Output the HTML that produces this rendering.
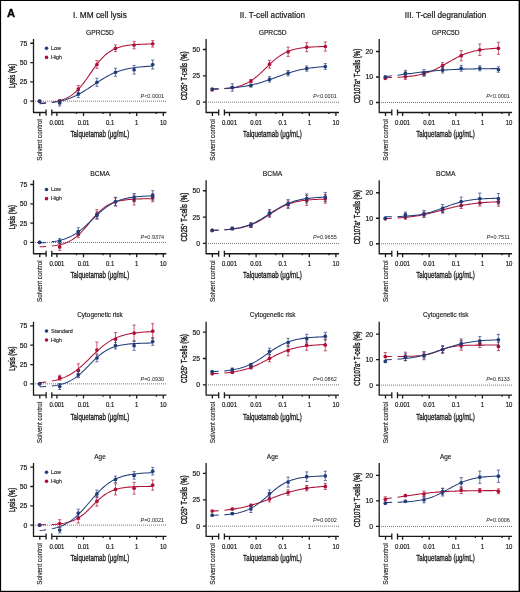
<!DOCTYPE html><html><head><meta charset="utf-8"><style>html,body{margin:0;padding:0;background:#fff;}svg{display:block;will-change:transform;}</style></head><body><svg width="520" height="592" viewBox="0 0 520 592" font-family='"Liberation Sans", sans-serif'>
<rect width="520" height="592" fill="#fff"/>
<g stroke="#1a1a1a" stroke-width="1.3" fill="none">
<path d="M33.50,39.00 V112.50 M32.95,112.50 H46.10 M46.10,109.60 V115.60 M51.80,109.60 V115.60 M51.80,112.50 H166.40"/>
<path d="M39.80,112.50 v3.4 M56.90,112.50 v3.4 M83.50,112.50 v3.4 M110.10,112.50 v3.4 M136.70,112.50 v3.4 M163.30,112.50 v3.4 M76.50,112.50 v1.6 M103.10,112.50 v1.6 M129.70,112.50 v1.6 M156.30,112.50 v1.6 M30.30,101.20 H33.50 M30.30,81.88 H33.50 M30.30,62.57 H33.50 M30.30,43.25 H33.50"/>
</g>
<path d="M35.00,101.20 H167.00" stroke="#666" stroke-width="0.9" stroke-dasharray="1 1" fill="none"/>
<text x="27.40" y="103.60" font-size="6.8" text-anchor="end" fill="#1a1a1a" stroke="#1a1a1a" stroke-width="0.2">0</text>
<text x="27.40" y="84.28" font-size="6.8" text-anchor="end" fill="#1a1a1a" stroke="#1a1a1a" stroke-width="0.2">25</text>
<text x="27.40" y="64.97" font-size="6.8" text-anchor="end" fill="#1a1a1a" stroke="#1a1a1a" stroke-width="0.2">50</text>
<text x="27.40" y="45.65" font-size="6.8" text-anchor="end" fill="#1a1a1a" stroke="#1a1a1a" stroke-width="0.2">75</text>
<text x="56.90" y="124.70" font-size="6.7" text-anchor="middle" textLength="15.01" lengthAdjust="spacingAndGlyphs" fill="#1a1a1a" stroke="#1a1a1a" stroke-width="0.2">0.001</text>
<text x="83.50" y="124.70" font-size="6.7" text-anchor="middle" textLength="11.68" lengthAdjust="spacingAndGlyphs" fill="#1a1a1a" stroke="#1a1a1a" stroke-width="0.2">0.01</text>
<text x="110.10" y="124.70" font-size="6.7" text-anchor="middle" textLength="8.34" lengthAdjust="spacingAndGlyphs" fill="#1a1a1a" stroke="#1a1a1a" stroke-width="0.2">0.1</text>
<text x="136.70" y="124.70" font-size="6.7" text-anchor="middle" textLength="3.34" lengthAdjust="spacingAndGlyphs" fill="#1a1a1a" stroke="#1a1a1a" stroke-width="0.2">1</text>
<text x="163.30" y="124.70" font-size="6.7" text-anchor="middle" textLength="6.67" lengthAdjust="spacingAndGlyphs" fill="#1a1a1a" stroke="#1a1a1a" stroke-width="0.2">10</text>
<text transform="translate(42.00,119.10) rotate(-90)" x="0" y="0" font-size="6.3" text-anchor="end" fill="#1a1a1a" stroke="#1a1a1a" stroke-width="0.14" textLength="41.6" lengthAdjust="spacingAndGlyphs">Solvent control</text>
<text x="99.85" y="136.90" font-size="8.8" text-anchor="middle" textLength="58.7" lengthAdjust="spacingAndGlyphs" fill="#1a1a1a" stroke="#1a1a1a" stroke-width="0.32">Talquetamab (μg/mL)</text>
<text transform="translate(14.60,75.90) rotate(-90)" font-size="8.4" text-anchor="middle" fill="#1a1a1a" stroke="#1a1a1a" stroke-width="0.38" textLength="24.3" lengthAdjust="spacingAndGlyphs">Lysis (%)</text>
<text x="100.00" y="34.60" font-size="6.7" text-anchor="middle" textLength="27.8" lengthAdjust="spacingAndGlyphs" fill="#1a1a1a" stroke="#1a1a1a" stroke-width="0.15">GPRC5D</text>
<text x="99.90" y="17.50" font-size="8.3" text-anchor="middle" textLength="53.9" lengthAdjust="spacingAndGlyphs" fill="#1a1a1a" stroke="#1a1a1a" stroke-width="0.2">I. MM cell lysis</text>
<circle cx="46.50" cy="48.30" r="1.8" fill="#213d7a"/>
<circle cx="46.50" cy="57.40" r="1.8" fill="#b01036"/>
<text x="50.90" y="49.90" font-size="5.4" text-anchor="start" fill="#1a1a1a" stroke="#1a1a1a" stroke-width="0.12">Low</text>
<text x="50.90" y="58.90" font-size="5.4" text-anchor="start" fill="#1a1a1a" stroke="#1a1a1a" stroke-width="0.12">High</text>
<text x="164.20" y="98.00" font-size="5.5" text-anchor="end" fill="#1a1a1a"><tspan font-style="italic">P</tspan><0.0001</text>
<path d="M51.80,102.21 L53.51,101.96 L55.22,101.67 L56.93,101.34 L58.64,100.95 L60.35,100.49 L62.06,99.96 L63.77,99.35 L65.48,98.64 L67.19,97.83 L68.90,96.91 L70.61,95.85 L72.32,94.66 L74.03,93.32 L75.74,91.83 L77.45,90.18 L79.16,88.37 L80.87,86.41 L82.58,84.30 L84.29,82.07 L86.00,79.73 L87.71,77.31 L89.42,74.85 L91.13,72.37 L92.84,69.90 L94.55,67.49 L96.26,65.16 L97.97,62.94 L99.68,60.85 L101.39,58.90 L103.11,57.11 L104.82,55.47 L106.53,53.99 L108.24,52.67 L109.95,51.49 L111.66,50.45 L113.37,49.53 L115.08,48.73 L116.79,48.04 L118.50,47.43 L120.21,46.91 L121.92,46.46 L123.63,46.08 L125.34,45.75 L127.05,45.46 L128.76,45.22 L130.47,45.01 L132.18,44.84 L133.89,44.69 L135.60,44.56 L137.31,44.45 L139.02,44.36 L140.73,44.28 L142.44,44.21 L144.15,44.16 L145.86,44.11 L147.57,44.07 L149.28,44.03 L150.99,44.00 L152.70,43.98 M39.60,103.17 L43.00,103.00 L46.10,102.79" stroke="#b01036" stroke-width="1.05" fill="none"/>
<path d="M59.70,100.00 V102.00 M58.10,100.00 h3.2 M58.10,102.00 h3.2 M78.30,85.60 V92.60 M76.70,85.60 h3.2 M76.70,92.60 h3.2 M96.90,60.60 V68.40 M95.30,60.60 h3.2 M95.30,68.40 h3.2 M115.50,44.95 V51.55 M113.90,44.95 h3.2 M113.90,51.55 h3.2 M134.10,41.40 V48.80 M132.50,41.40 h3.2 M132.50,48.80 h3.2 M152.70,40.45 V47.05 M151.10,40.45 h3.2 M151.10,47.05 h3.2 " stroke="#b01036" stroke-width="0.8" stroke-opacity="0.85" fill="none"/>
<circle cx="39.60" cy="101.20" r="1.85" fill="#b01036"/>
<circle cx="59.70" cy="101.00" r="1.85" fill="#b01036"/>
<circle cx="78.30" cy="89.10" r="1.85" fill="#b01036"/>
<circle cx="96.90" cy="64.50" r="1.85" fill="#b01036"/>
<circle cx="115.50" cy="48.25" r="1.85" fill="#b01036"/>
<circle cx="134.10" cy="45.10" r="1.85" fill="#b01036"/>
<circle cx="152.70" cy="43.75" r="1.85" fill="#b01036"/>
<path d="M51.80,102.54 L53.51,102.30 L55.22,102.02 L56.93,101.72 L58.64,101.38 L60.35,101.01 L62.06,100.61 L63.77,100.16 L65.48,99.67 L67.19,99.13 L68.90,98.54 L70.61,97.91 L72.32,97.23 L74.03,96.49 L75.74,95.70 L77.45,94.85 L79.16,93.96 L80.87,93.02 L82.58,92.03 L84.29,90.99 L86.00,89.92 L87.71,88.82 L89.42,87.69 L91.13,86.55 L92.84,85.39 L94.55,84.23 L96.26,83.08 L97.97,81.94 L99.68,80.82 L101.39,79.73 L103.11,78.68 L104.82,77.67 L106.53,76.70 L108.24,75.77 L109.95,74.90 L111.66,74.08 L113.37,73.31 L115.08,72.60 L116.79,71.94 L118.50,71.32 L120.21,70.76 L121.92,70.24 L123.63,69.77 L125.34,69.34 L127.05,68.95 L128.76,68.59 L130.47,68.27 L132.18,67.98 L133.89,67.72 L135.60,67.49 L137.31,67.27 L139.02,67.08 L140.73,66.91 L142.44,66.76 L144.15,66.62 L145.86,66.50 L147.57,66.39 L149.28,66.29 L150.99,66.21 L152.70,66.13 M39.60,103.71 L43.00,103.47 L46.10,103.20" stroke="#213d7a" stroke-width="1.05" fill="none"/>
<path d="M59.70,99.80 V106.00 M58.10,99.80 h3.2 M58.10,106.00 h3.2 M78.30,90.60 V97.60 M76.70,90.60 h3.2 M76.70,97.60 h3.2 M96.90,78.25 V86.25 M95.30,78.25 h3.2 M95.30,86.25 h3.2 M115.50,68.25 V76.25 M113.90,68.25 h3.2 M113.90,76.25 h3.2 M134.10,65.45 V74.05 M132.50,65.45 h3.2 M132.50,74.05 h3.2 M152.70,60.00 V69.00 M151.10,60.00 h3.2 M151.10,69.00 h3.2 " stroke="#213d7a" stroke-width="0.8" stroke-opacity="0.85" fill="none"/>
<circle cx="39.60" cy="101.20" r="1.85" fill="#213d7a"/>
<circle cx="59.70" cy="102.90" r="1.85" fill="#213d7a"/>
<circle cx="78.30" cy="94.10" r="1.85" fill="#213d7a"/>
<circle cx="96.90" cy="82.25" r="1.85" fill="#213d7a"/>
<circle cx="115.50" cy="72.25" r="1.85" fill="#213d7a"/>
<circle cx="134.10" cy="69.75" r="1.85" fill="#213d7a"/>
<circle cx="152.70" cy="64.50" r="1.85" fill="#213d7a"/>
<g stroke="#1a1a1a" stroke-width="1.3" fill="none">
<path d="M33.50,180.25 V253.75 M32.95,253.75 H46.10 M46.10,250.85 V256.85 M51.80,250.85 V256.85 M51.80,253.75 H166.40"/>
<path d="M39.80,253.75 v3.4 M56.90,253.75 v3.4 M83.50,253.75 v3.4 M110.10,253.75 v3.4 M136.70,253.75 v3.4 M163.30,253.75 v3.4 M76.50,253.75 v1.6 M103.10,253.75 v1.6 M129.70,253.75 v1.6 M156.30,253.75 v1.6 M30.30,242.45 H33.50 M30.30,223.13 H33.50 M30.30,203.82 H33.50 M30.30,184.50 H33.50"/>
</g>
<path d="M35.00,242.45 H167.00" stroke="#666" stroke-width="0.9" stroke-dasharray="1 1" fill="none"/>
<text x="27.40" y="244.85" font-size="6.8" text-anchor="end" fill="#1a1a1a" stroke="#1a1a1a" stroke-width="0.2">0</text>
<text x="27.40" y="225.53" font-size="6.8" text-anchor="end" fill="#1a1a1a" stroke="#1a1a1a" stroke-width="0.2">25</text>
<text x="27.40" y="206.22" font-size="6.8" text-anchor="end" fill="#1a1a1a" stroke="#1a1a1a" stroke-width="0.2">50</text>
<text x="27.40" y="186.90" font-size="6.8" text-anchor="end" fill="#1a1a1a" stroke="#1a1a1a" stroke-width="0.2">75</text>
<text x="56.90" y="265.95" font-size="6.7" text-anchor="middle" textLength="15.01" lengthAdjust="spacingAndGlyphs" fill="#1a1a1a" stroke="#1a1a1a" stroke-width="0.2">0.001</text>
<text x="83.50" y="265.95" font-size="6.7" text-anchor="middle" textLength="11.68" lengthAdjust="spacingAndGlyphs" fill="#1a1a1a" stroke="#1a1a1a" stroke-width="0.2">0.01</text>
<text x="110.10" y="265.95" font-size="6.7" text-anchor="middle" textLength="8.34" lengthAdjust="spacingAndGlyphs" fill="#1a1a1a" stroke="#1a1a1a" stroke-width="0.2">0.1</text>
<text x="136.70" y="265.95" font-size="6.7" text-anchor="middle" textLength="3.34" lengthAdjust="spacingAndGlyphs" fill="#1a1a1a" stroke="#1a1a1a" stroke-width="0.2">1</text>
<text x="163.30" y="265.95" font-size="6.7" text-anchor="middle" textLength="6.67" lengthAdjust="spacingAndGlyphs" fill="#1a1a1a" stroke="#1a1a1a" stroke-width="0.2">10</text>
<text transform="translate(42.00,260.35) rotate(-90)" x="0" y="0" font-size="6.3" text-anchor="end" fill="#1a1a1a" stroke="#1a1a1a" stroke-width="0.14" textLength="41.6" lengthAdjust="spacingAndGlyphs">Solvent control</text>
<text x="99.85" y="278.15" font-size="8.8" text-anchor="middle" textLength="58.7" lengthAdjust="spacingAndGlyphs" fill="#1a1a1a" stroke="#1a1a1a" stroke-width="0.32">Talquetamab (μg/mL)</text>
<text transform="translate(14.60,217.15) rotate(-90)" font-size="8.4" text-anchor="middle" fill="#1a1a1a" stroke="#1a1a1a" stroke-width="0.38" textLength="24.3" lengthAdjust="spacingAndGlyphs">Lysis (%)</text>
<text x="100.00" y="175.85" font-size="6.7" text-anchor="middle" textLength="19.6" lengthAdjust="spacingAndGlyphs" fill="#1a1a1a" stroke="#1a1a1a" stroke-width="0.15">BCMA</text>
<circle cx="46.50" cy="189.55" r="1.8" fill="#213d7a"/>
<circle cx="46.50" cy="198.65" r="1.8" fill="#b01036"/>
<text x="50.90" y="191.15" font-size="5.4" text-anchor="start" fill="#1a1a1a" stroke="#1a1a1a" stroke-width="0.12">Low</text>
<text x="50.90" y="200.15" font-size="5.4" text-anchor="start" fill="#1a1a1a" stroke="#1a1a1a" stroke-width="0.12">High</text>
<text x="164.20" y="239.25" font-size="5.5" text-anchor="end" fill="#1a1a1a"><tspan font-style="italic">P</tspan>=0.9374</text>
<path d="M51.80,246.03 L53.51,245.83 L55.22,245.59 L56.93,245.31 L58.64,244.98 L60.35,244.60 L62.06,244.15 L63.77,243.64 L65.48,243.04 L67.19,242.35 L68.90,241.56 L70.61,240.66 L72.32,239.64 L74.03,238.49 L75.74,237.21 L77.45,235.79 L79.16,234.24 L80.87,232.56 L82.58,230.76 L84.29,228.86 L86.00,226.88 L87.71,224.84 L89.42,222.77 L91.13,220.70 L92.84,218.67 L94.55,216.69 L96.26,214.80 L97.97,213.01 L99.68,211.34 L101.39,209.81 L103.11,208.40 L104.82,207.13 L106.53,206.00 L108.24,204.99 L109.95,204.10 L111.66,203.31 L113.37,202.63 L115.08,202.04 L116.79,201.53 L118.50,201.09 L120.21,200.72 L121.92,200.40 L123.63,200.12 L125.34,199.88 L127.05,199.69 L128.76,199.52 L130.47,199.37 L132.18,199.25 L133.89,199.15 L135.60,199.06 L137.31,198.98 L139.02,198.92 L140.73,198.87 L142.44,198.82 L144.15,198.79 L145.86,198.75 L147.57,198.73 L149.28,198.70 L150.99,198.68 L152.70,198.67 M39.60,246.81 L43.00,246.68 L46.10,246.51" stroke="#b01036" stroke-width="1.05" fill="none"/>
<path d="M59.70,243.40 V250.40 M58.10,243.40 h3.2 M58.10,250.40 h3.2 M78.30,230.90 V237.70 M76.70,230.90 h3.2 M76.70,237.70 h3.2 M96.90,209.60 V219.00 M95.30,209.60 h3.2 M95.30,219.00 h3.2 M115.50,198.00 V206.00 M113.90,198.00 h3.2 M113.90,206.00 h3.2 M134.10,195.00 V205.00 M132.50,195.00 h3.2 M132.50,205.00 h3.2 M152.70,193.70 V201.70 M151.10,193.70 h3.2 M151.10,201.70 h3.2 " stroke="#b01036" stroke-width="0.8" stroke-opacity="0.85" fill="none"/>
<circle cx="39.60" cy="242.30" r="1.85" fill="#b01036"/>
<circle cx="59.70" cy="246.90" r="1.85" fill="#b01036"/>
<circle cx="78.30" cy="234.30" r="1.85" fill="#b01036"/>
<circle cx="96.90" cy="214.30" r="1.85" fill="#b01036"/>
<circle cx="115.50" cy="202.00" r="1.85" fill="#b01036"/>
<circle cx="134.10" cy="200.00" r="1.85" fill="#b01036"/>
<circle cx="152.70" cy="197.70" r="1.85" fill="#b01036"/>
<path d="M51.80,241.86 L53.51,241.61 L55.22,241.33 L56.93,241.01 L58.64,240.65 L60.35,240.24 L62.06,239.78 L63.77,239.26 L65.48,238.68 L67.19,238.04 L68.90,237.32 L70.61,236.53 L72.32,235.65 L74.03,234.69 L75.74,233.64 L77.45,232.50 L79.16,231.27 L80.87,229.96 L82.58,228.57 L84.29,227.10 L86.00,225.57 L87.71,223.99 L89.42,222.36 L91.13,220.71 L92.84,219.04 L94.55,217.38 L96.26,215.74 L97.97,214.14 L99.68,212.58 L101.39,211.09 L103.11,209.66 L104.82,208.32 L106.53,207.06 L108.24,205.88 L109.95,204.80 L111.66,203.80 L113.37,202.89 L115.08,202.06 L116.79,201.31 L118.50,200.63 L120.21,200.03 L121.92,199.49 L123.63,199.00 L125.34,198.57 L127.05,198.19 L128.76,197.86 L130.47,197.56 L132.18,197.30 L133.89,197.07 L135.60,196.87 L137.31,196.69 L139.02,196.53 L140.73,196.40 L142.44,196.28 L144.15,196.17 L145.86,196.08 L147.57,196.00 L149.28,195.93 L150.99,195.87 L152.70,195.82 M39.60,242.94 L43.00,242.73 L46.10,242.49" stroke="#213d7a" stroke-width="1.05" fill="none"/>
<path d="M59.70,238.60 V243.60 M58.10,238.60 h3.2 M58.10,243.60 h3.2 M78.30,227.70 V235.30 M76.70,227.70 h3.2 M76.70,235.30 h3.2 M96.90,211.90 V218.90 M95.30,211.90 h3.2 M95.30,218.90 h3.2 M115.50,197.30 V205.70 M113.90,197.30 h3.2 M113.90,205.70 h3.2 M134.10,193.50 V201.90 M132.50,193.50 h3.2 M132.50,201.90 h3.2 M152.70,190.70 V200.10 M151.10,190.70 h3.2 M151.10,200.10 h3.2 " stroke="#213d7a" stroke-width="0.8" stroke-opacity="0.85" fill="none"/>
<circle cx="39.60" cy="242.30" r="1.85" fill="#213d7a"/>
<circle cx="59.70" cy="241.10" r="1.85" fill="#213d7a"/>
<circle cx="78.30" cy="231.50" r="1.85" fill="#213d7a"/>
<circle cx="96.90" cy="215.40" r="1.85" fill="#213d7a"/>
<circle cx="115.50" cy="201.50" r="1.85" fill="#213d7a"/>
<circle cx="134.10" cy="197.70" r="1.85" fill="#213d7a"/>
<circle cx="152.70" cy="195.40" r="1.85" fill="#213d7a"/>
<g stroke="#1a1a1a" stroke-width="1.3" fill="none">
<path d="M33.50,321.65 V395.15 M32.95,395.15 H46.10 M46.10,392.25 V398.25 M51.80,392.25 V398.25 M51.80,395.15 H166.40"/>
<path d="M39.80,395.15 v3.4 M56.90,395.15 v3.4 M83.50,395.15 v3.4 M110.10,395.15 v3.4 M136.70,395.15 v3.4 M163.30,395.15 v3.4 M76.50,395.15 v1.6 M103.10,395.15 v1.6 M129.70,395.15 v1.6 M156.30,395.15 v1.6 M30.30,383.85 H33.50 M30.30,364.53 H33.50 M30.30,345.22 H33.50 M30.30,325.90 H33.50"/>
</g>
<path d="M35.00,383.85 H167.00" stroke="#666" stroke-width="0.9" stroke-dasharray="1 1" fill="none"/>
<text x="27.40" y="386.25" font-size="6.8" text-anchor="end" fill="#1a1a1a" stroke="#1a1a1a" stroke-width="0.2">0</text>
<text x="27.40" y="366.93" font-size="6.8" text-anchor="end" fill="#1a1a1a" stroke="#1a1a1a" stroke-width="0.2">25</text>
<text x="27.40" y="347.62" font-size="6.8" text-anchor="end" fill="#1a1a1a" stroke="#1a1a1a" stroke-width="0.2">50</text>
<text x="27.40" y="328.30" font-size="6.8" text-anchor="end" fill="#1a1a1a" stroke="#1a1a1a" stroke-width="0.2">75</text>
<text x="56.90" y="407.35" font-size="6.7" text-anchor="middle" textLength="15.01" lengthAdjust="spacingAndGlyphs" fill="#1a1a1a" stroke="#1a1a1a" stroke-width="0.2">0.001</text>
<text x="83.50" y="407.35" font-size="6.7" text-anchor="middle" textLength="11.68" lengthAdjust="spacingAndGlyphs" fill="#1a1a1a" stroke="#1a1a1a" stroke-width="0.2">0.01</text>
<text x="110.10" y="407.35" font-size="6.7" text-anchor="middle" textLength="8.34" lengthAdjust="spacingAndGlyphs" fill="#1a1a1a" stroke="#1a1a1a" stroke-width="0.2">0.1</text>
<text x="136.70" y="407.35" font-size="6.7" text-anchor="middle" textLength="3.34" lengthAdjust="spacingAndGlyphs" fill="#1a1a1a" stroke="#1a1a1a" stroke-width="0.2">1</text>
<text x="163.30" y="407.35" font-size="6.7" text-anchor="middle" textLength="6.67" lengthAdjust="spacingAndGlyphs" fill="#1a1a1a" stroke="#1a1a1a" stroke-width="0.2">10</text>
<text transform="translate(42.00,401.75) rotate(-90)" x="0" y="0" font-size="6.3" text-anchor="end" fill="#1a1a1a" stroke="#1a1a1a" stroke-width="0.14" textLength="41.6" lengthAdjust="spacingAndGlyphs">Solvent control</text>
<text x="99.85" y="419.55" font-size="8.8" text-anchor="middle" textLength="58.7" lengthAdjust="spacingAndGlyphs" fill="#1a1a1a" stroke="#1a1a1a" stroke-width="0.32">Talquetamab (μg/mL)</text>
<text transform="translate(14.60,358.55) rotate(-90)" font-size="8.4" text-anchor="middle" fill="#1a1a1a" stroke="#1a1a1a" stroke-width="0.38" textLength="24.3" lengthAdjust="spacingAndGlyphs">Lysis (%)</text>
<text x="100.00" y="317.25" font-size="6.7" text-anchor="middle" textLength="45.5" lengthAdjust="spacingAndGlyphs" fill="#1a1a1a" stroke="#1a1a1a" stroke-width="0.15">Cytogenetic risk</text>
<circle cx="46.50" cy="330.95" r="1.8" fill="#213d7a"/>
<circle cx="46.50" cy="340.05" r="1.8" fill="#b01036"/>
<text x="50.90" y="332.55" font-size="5.4" text-anchor="start" fill="#1a1a1a" stroke="#1a1a1a" stroke-width="0.12">Standard</text>
<text x="50.90" y="341.55" font-size="5.4" text-anchor="start" fill="#1a1a1a" stroke="#1a1a1a" stroke-width="0.12">High</text>
<text x="164.20" y="380.65" font-size="5.5" text-anchor="end" fill="#1a1a1a"><tspan font-style="italic">P</tspan>=0.0930</text>
<path d="M51.80,381.09 L53.51,380.75 L55.22,380.36 L56.93,379.92 L58.64,379.44 L60.35,378.90 L62.06,378.29 L63.77,377.63 L65.48,376.89 L67.19,376.09 L68.90,375.20 L70.61,374.23 L72.32,373.19 L74.03,372.05 L75.74,370.84 L77.45,369.54 L79.16,368.16 L80.87,366.71 L82.58,365.19 L84.29,363.61 L86.00,361.98 L87.71,360.32 L89.42,358.63 L91.13,356.94 L92.84,355.24 L94.55,353.57 L96.26,351.93 L97.97,350.33 L99.68,348.79 L101.39,347.31 L103.11,345.90 L104.82,344.57 L106.53,343.33 L108.24,342.16 L109.95,341.08 L111.66,340.08 L113.37,339.17 L115.08,338.33 L116.79,337.57 L118.50,336.88 L120.21,336.25 L121.92,335.69 L123.63,335.18 L125.34,334.73 L127.05,334.32 L128.76,333.96 L130.47,333.64 L132.18,333.35 L133.89,333.09 L135.60,332.87 L137.31,332.67 L139.02,332.49 L140.73,332.33 L142.44,332.19 L144.15,332.07 L145.86,331.96 L147.57,331.87 L149.28,331.78 L150.99,331.71 L152.70,331.64 M39.60,382.67 L43.00,382.36 L46.10,382.00" stroke="#b01036" stroke-width="1.05" fill="none"/>
<path d="M59.70,375.20 V380.20 M58.10,375.20 h3.2 M58.10,380.20 h3.2 M78.30,363.80 V376.80 M76.70,363.80 h3.2 M76.70,376.80 h3.2 M96.90,342.00 V358.00 M95.30,342.00 h3.2 M95.30,358.00 h3.2 M115.50,332.60 V345.80 M113.90,332.60 h3.2 M113.90,345.80 h3.2 M134.10,325.10 V341.10 M132.50,325.10 h3.2 M132.50,341.10 h3.2 M152.70,323.70 V338.70 M151.10,323.70 h3.2 M151.10,338.70 h3.2 " stroke="#b01036" stroke-width="0.8" stroke-opacity="0.85" fill="none"/>
<circle cx="39.60" cy="383.80" r="1.85" fill="#b01036"/>
<circle cx="59.70" cy="377.70" r="1.85" fill="#b01036"/>
<circle cx="78.30" cy="370.30" r="1.85" fill="#b01036"/>
<circle cx="96.90" cy="350.00" r="1.85" fill="#b01036"/>
<circle cx="115.50" cy="339.20" r="1.85" fill="#b01036"/>
<circle cx="134.10" cy="333.10" r="1.85" fill="#b01036"/>
<circle cx="152.70" cy="331.20" r="1.85" fill="#b01036"/>
<path d="M51.80,385.95 L53.51,385.73 L55.22,385.48 L56.93,385.18 L58.64,384.84 L60.35,384.45 L62.06,383.99 L63.77,383.48 L65.48,382.89 L67.19,382.22 L68.90,381.46 L70.61,380.60 L72.32,379.65 L74.03,378.59 L75.74,377.43 L77.45,376.15 L79.16,374.78 L80.87,373.30 L82.58,371.73 L84.29,370.09 L86.00,368.39 L87.71,366.65 L89.42,364.88 L91.13,363.13 L92.84,361.39 L94.55,359.70 L96.26,358.08 L97.97,356.53 L99.68,355.08 L101.39,353.73 L103.11,352.48 L104.82,351.34 L106.53,350.31 L108.24,349.39 L109.95,348.56 L111.66,347.82 L113.37,347.17 L115.08,346.60 L116.79,346.10 L118.50,345.66 L120.21,345.28 L121.92,344.95 L123.63,344.67 L125.34,344.42 L127.05,344.21 L128.76,344.03 L130.47,343.87 L132.18,343.74 L133.89,343.62 L135.60,343.52 L137.31,343.44 L139.02,343.36 L140.73,343.30 L142.44,343.25 L144.15,343.20 L145.86,343.16 L147.57,343.13 L149.28,343.10 L150.99,343.08 L152.70,343.06 M39.60,386.84 L43.00,386.68 L46.10,386.49" stroke="#213d7a" stroke-width="1.05" fill="none"/>
<path d="M59.70,383.50 V389.50 M58.10,383.50 h3.2 M58.10,389.50 h3.2 M78.30,371.50 V377.70 M76.70,371.50 h3.2 M76.70,377.70 h3.2 M96.90,354.20 V361.80 M95.30,354.20 h3.2 M95.30,361.80 h3.2 M115.50,342.40 V349.00 M113.90,342.40 h3.2 M113.90,349.00 h3.2 M134.10,341.00 V350.40 M132.50,341.00 h3.2 M132.50,350.40 h3.2 M152.70,337.70 V345.30 M151.10,337.70 h3.2 M151.10,345.30 h3.2 " stroke="#213d7a" stroke-width="0.8" stroke-opacity="0.85" fill="none"/>
<circle cx="39.60" cy="383.80" r="1.85" fill="#213d7a"/>
<circle cx="59.70" cy="386.50" r="1.85" fill="#213d7a"/>
<circle cx="78.30" cy="374.60" r="1.85" fill="#213d7a"/>
<circle cx="96.90" cy="358.00" r="1.85" fill="#213d7a"/>
<circle cx="115.50" cy="345.70" r="1.85" fill="#213d7a"/>
<circle cx="134.10" cy="345.70" r="1.85" fill="#213d7a"/>
<circle cx="152.70" cy="341.50" r="1.85" fill="#213d7a"/>
<g stroke="#1a1a1a" stroke-width="1.3" fill="none">
<path d="M33.50,462.95 V536.45 M32.95,536.45 H46.10 M46.10,533.55 V539.55 M51.80,533.55 V539.55 M51.80,536.45 H166.40"/>
<path d="M39.80,536.45 v3.4 M56.90,536.45 v3.4 M83.50,536.45 v3.4 M110.10,536.45 v3.4 M136.70,536.45 v3.4 M163.30,536.45 v3.4 M76.50,536.45 v1.6 M103.10,536.45 v1.6 M129.70,536.45 v1.6 M156.30,536.45 v1.6 M30.30,525.15 H33.50 M30.30,505.83 H33.50 M30.30,486.52 H33.50 M30.30,467.20 H33.50"/>
</g>
<path d="M35.00,525.15 H167.00" stroke="#666" stroke-width="0.9" stroke-dasharray="1 1" fill="none"/>
<text x="27.40" y="527.55" font-size="6.8" text-anchor="end" fill="#1a1a1a" stroke="#1a1a1a" stroke-width="0.2">0</text>
<text x="27.40" y="508.23" font-size="6.8" text-anchor="end" fill="#1a1a1a" stroke="#1a1a1a" stroke-width="0.2">25</text>
<text x="27.40" y="488.92" font-size="6.8" text-anchor="end" fill="#1a1a1a" stroke="#1a1a1a" stroke-width="0.2">50</text>
<text x="27.40" y="469.60" font-size="6.8" text-anchor="end" fill="#1a1a1a" stroke="#1a1a1a" stroke-width="0.2">75</text>
<text x="56.90" y="548.65" font-size="6.7" text-anchor="middle" textLength="15.01" lengthAdjust="spacingAndGlyphs" fill="#1a1a1a" stroke="#1a1a1a" stroke-width="0.2">0.001</text>
<text x="83.50" y="548.65" font-size="6.7" text-anchor="middle" textLength="11.68" lengthAdjust="spacingAndGlyphs" fill="#1a1a1a" stroke="#1a1a1a" stroke-width="0.2">0.01</text>
<text x="110.10" y="548.65" font-size="6.7" text-anchor="middle" textLength="8.34" lengthAdjust="spacingAndGlyphs" fill="#1a1a1a" stroke="#1a1a1a" stroke-width="0.2">0.1</text>
<text x="136.70" y="548.65" font-size="6.7" text-anchor="middle" textLength="3.34" lengthAdjust="spacingAndGlyphs" fill="#1a1a1a" stroke="#1a1a1a" stroke-width="0.2">1</text>
<text x="163.30" y="548.65" font-size="6.7" text-anchor="middle" textLength="6.67" lengthAdjust="spacingAndGlyphs" fill="#1a1a1a" stroke="#1a1a1a" stroke-width="0.2">10</text>
<text transform="translate(42.00,543.05) rotate(-90)" x="0" y="0" font-size="6.3" text-anchor="end" fill="#1a1a1a" stroke="#1a1a1a" stroke-width="0.14" textLength="41.6" lengthAdjust="spacingAndGlyphs">Solvent control</text>
<text x="99.85" y="560.85" font-size="8.8" text-anchor="middle" textLength="58.7" lengthAdjust="spacingAndGlyphs" fill="#1a1a1a" stroke="#1a1a1a" stroke-width="0.32">Talquetamab (μg/mL)</text>
<text transform="translate(14.60,499.85) rotate(-90)" font-size="8.4" text-anchor="middle" fill="#1a1a1a" stroke="#1a1a1a" stroke-width="0.38" textLength="24.3" lengthAdjust="spacingAndGlyphs">Lysis (%)</text>
<text x="100.00" y="458.55" font-size="6.7" text-anchor="middle" textLength="11.5" lengthAdjust="spacingAndGlyphs" fill="#1a1a1a" stroke="#1a1a1a" stroke-width="0.15">Age</text>
<circle cx="46.50" cy="472.25" r="1.8" fill="#213d7a"/>
<circle cx="46.50" cy="481.35" r="1.8" fill="#b01036"/>
<text x="50.90" y="473.85" font-size="5.4" text-anchor="start" fill="#1a1a1a" stroke="#1a1a1a" stroke-width="0.12">Low</text>
<text x="50.90" y="482.85" font-size="5.4" text-anchor="start" fill="#1a1a1a" stroke="#1a1a1a" stroke-width="0.12">High</text>
<text x="164.20" y="521.95" font-size="5.5" text-anchor="end" fill="#1a1a1a"><tspan font-style="italic">P</tspan>=0.0021</text>
<path d="M51.80,524.51 L53.51,524.40 L55.22,524.28 L56.93,524.14 L58.64,523.96 L60.35,523.76 L62.06,523.52 L63.77,523.23 L65.48,522.90 L67.19,522.50 L68.90,522.04 L70.61,521.51 L72.32,520.89 L74.03,520.18 L75.74,519.37 L77.45,518.44 L79.16,517.40 L80.87,516.25 L82.58,514.97 L84.29,513.58 L86.00,512.08 L87.71,510.50 L89.42,508.84 L91.13,507.13 L92.84,505.40 L94.55,503.67 L96.26,501.97 L97.97,500.33 L99.68,498.77 L101.39,497.31 L103.11,495.95 L104.82,494.71 L106.53,493.59 L108.24,492.59 L109.95,491.70 L111.66,490.91 L113.37,490.23 L115.08,489.64 L116.79,489.13 L118.50,488.69 L120.21,488.32 L121.92,488.00 L123.63,487.73 L125.34,487.50 L127.05,487.30 L128.76,487.14 L130.47,487.00 L132.18,486.89 L133.89,486.79 L135.60,486.71 L137.31,486.64 L139.02,486.58 L140.73,486.53 L142.44,486.49 L144.15,486.46 L145.86,486.43 L147.57,486.40 L149.28,486.38 L150.99,486.37 L152.70,486.35 M39.60,524.89 L43.00,524.83 L46.10,524.75" stroke="#b01036" stroke-width="1.05" fill="none"/>
<path d="M59.70,519.70 V527.30 M58.10,519.70 h3.2 M58.10,527.30 h3.2 M78.30,513.40 V523.00 M76.70,513.40 h3.2 M76.70,523.00 h3.2 M96.90,496.20 V506.20 M95.30,496.20 h3.2 M95.30,506.20 h3.2 M115.50,483.90 V494.90 M113.90,483.90 h3.2 M113.90,494.90 h3.2 M134.10,482.30 V494.10 M132.50,482.30 h3.2 M132.50,494.10 h3.2 M152.70,480.00 V490.20 M151.10,480.00 h3.2 M151.10,490.20 h3.2 " stroke="#b01036" stroke-width="0.8" stroke-opacity="0.85" fill="none"/>
<circle cx="39.60" cy="525.10" r="1.85" fill="#b01036"/>
<circle cx="59.70" cy="523.50" r="1.85" fill="#b01036"/>
<circle cx="78.30" cy="518.20" r="1.85" fill="#b01036"/>
<circle cx="96.90" cy="501.20" r="1.85" fill="#b01036"/>
<circle cx="115.50" cy="489.40" r="1.85" fill="#b01036"/>
<circle cx="134.10" cy="488.20" r="1.85" fill="#b01036"/>
<circle cx="152.70" cy="485.10" r="1.85" fill="#b01036"/>
<path d="M51.80,528.86 L53.51,528.47 L55.22,528.04 L56.93,527.55 L58.64,527.00 L60.35,526.38 L62.06,525.69 L63.77,524.92 L65.48,524.07 L67.19,523.12 L68.90,522.08 L70.61,520.94 L72.32,519.70 L74.03,518.35 L75.74,516.90 L77.45,515.34 L79.16,513.69 L80.87,511.94 L82.58,510.12 L84.29,508.22 L86.00,506.27 L87.71,504.28 L89.42,502.27 L91.13,500.26 L92.84,498.26 L94.55,496.30 L96.26,494.39 L97.97,492.54 L99.68,490.77 L101.39,489.09 L103.11,487.51 L104.82,486.03 L106.53,484.65 L108.24,483.37 L109.95,482.21 L111.66,481.14 L113.37,480.17 L115.08,479.29 L116.79,478.50 L118.50,477.78 L120.21,477.15 L121.92,476.58 L123.63,476.07 L125.34,475.62 L127.05,475.23 L128.76,474.87 L130.47,474.56 L132.18,474.29 L133.89,474.05 L135.60,473.83 L137.31,473.65 L139.02,473.48 L140.73,473.34 L142.44,473.21 L144.15,473.10 L145.86,473.00 L147.57,472.92 L149.28,472.84 L150.99,472.78 L152.70,472.72 M39.60,530.56 L43.00,530.23 L46.10,529.84" stroke="#213d7a" stroke-width="1.05" fill="none"/>
<path d="M59.70,527.10 V532.90 M58.10,527.10 h3.2 M58.10,532.90 h3.2 M78.30,509.20 V517.00 M76.70,509.20 h3.2 M76.70,517.00 h3.2 M96.90,490.10 V497.50 M95.30,490.10 h3.2 M95.30,497.50 h3.2 M115.50,476.10 V482.70 M113.90,476.10 h3.2 M113.90,482.70 h3.2 M134.10,471.60 V479.20 M132.50,471.60 h3.2 M132.50,479.20 h3.2 M152.70,467.40 V475.00 M151.10,467.40 h3.2 M151.10,475.00 h3.2 " stroke="#213d7a" stroke-width="0.8" stroke-opacity="0.85" fill="none"/>
<circle cx="39.60" cy="525.10" r="1.85" fill="#213d7a"/>
<circle cx="59.70" cy="530.00" r="1.85" fill="#213d7a"/>
<circle cx="78.30" cy="513.10" r="1.85" fill="#213d7a"/>
<circle cx="96.90" cy="493.80" r="1.85" fill="#213d7a"/>
<circle cx="115.50" cy="479.40" r="1.85" fill="#213d7a"/>
<circle cx="134.10" cy="475.40" r="1.85" fill="#213d7a"/>
<circle cx="152.70" cy="471.20" r="1.85" fill="#213d7a"/>
<g stroke="#1a1a1a" stroke-width="1.3" fill="none">
<path d="M206.10,39.00 V112.50 M205.55,112.50 H218.70 M218.70,109.60 V115.60 M224.40,109.60 V115.60 M224.40,112.50 H339.00"/>
<path d="M212.40,112.50 v3.4 M229.50,112.50 v3.4 M256.10,112.50 v3.4 M282.70,112.50 v3.4 M309.30,112.50 v3.4 M335.90,112.50 v3.4 M249.10,112.50 v1.6 M275.70,112.50 v1.6 M302.30,112.50 v1.6 M328.90,112.50 v1.6 M202.90,102.20 H206.10 M202.90,75.85 H206.10 M202.90,49.50 H206.10"/>
</g>
<path d="M208.00,102.20 H339.60" stroke="#666" stroke-width="0.9" stroke-dasharray="1 1" fill="none"/>
<text x="200.00" y="104.60" font-size="6.8" text-anchor="end" fill="#1a1a1a" stroke="#1a1a1a" stroke-width="0.2">0</text>
<text x="200.00" y="78.25" font-size="6.8" text-anchor="end" fill="#1a1a1a" stroke="#1a1a1a" stroke-width="0.2">25</text>
<text x="200.00" y="51.90" font-size="6.8" text-anchor="end" fill="#1a1a1a" stroke="#1a1a1a" stroke-width="0.2">50</text>
<text x="229.50" y="124.70" font-size="6.7" text-anchor="middle" textLength="15.01" lengthAdjust="spacingAndGlyphs" fill="#1a1a1a" stroke="#1a1a1a" stroke-width="0.2">0.001</text>
<text x="256.10" y="124.70" font-size="6.7" text-anchor="middle" textLength="11.68" lengthAdjust="spacingAndGlyphs" fill="#1a1a1a" stroke="#1a1a1a" stroke-width="0.2">0.01</text>
<text x="282.70" y="124.70" font-size="6.7" text-anchor="middle" textLength="8.34" lengthAdjust="spacingAndGlyphs" fill="#1a1a1a" stroke="#1a1a1a" stroke-width="0.2">0.1</text>
<text x="309.30" y="124.70" font-size="6.7" text-anchor="middle" textLength="3.34" lengthAdjust="spacingAndGlyphs" fill="#1a1a1a" stroke="#1a1a1a" stroke-width="0.2">1</text>
<text x="335.90" y="124.70" font-size="6.7" text-anchor="middle" textLength="6.67" lengthAdjust="spacingAndGlyphs" fill="#1a1a1a" stroke="#1a1a1a" stroke-width="0.2">10</text>
<text transform="translate(214.60,119.10) rotate(-90)" x="0" y="0" font-size="6.3" text-anchor="end" fill="#1a1a1a" stroke="#1a1a1a" stroke-width="0.14" textLength="41.6" lengthAdjust="spacingAndGlyphs">Solvent control</text>
<text x="272.45" y="136.90" font-size="8.8" text-anchor="middle" textLength="58.7" lengthAdjust="spacingAndGlyphs" fill="#1a1a1a" stroke="#1a1a1a" stroke-width="0.32">Talquetamab (μg/mL)</text>
<text transform="translate(187.20,75.90) rotate(-90)" font-size="8.4" text-anchor="middle" fill="#1a1a1a" stroke="#1a1a1a" stroke-width="0.38" textLength="48.8" lengthAdjust="spacingAndGlyphs">CD25<tspan font-size="5" dy="-3.2">+</tspan><tspan dy="3.2"> T-cells (%)</tspan></text>
<text x="272.60" y="34.60" font-size="6.7" text-anchor="middle" textLength="27.8" lengthAdjust="spacingAndGlyphs" fill="#1a1a1a" stroke="#1a1a1a" stroke-width="0.15">GPRC5D</text>
<text x="272.50" y="17.50" font-size="8.3" text-anchor="middle" textLength="65.3" lengthAdjust="spacingAndGlyphs" fill="#1a1a1a" stroke="#1a1a1a" stroke-width="0.2">II. T-cell activation</text>
<text x="336.80" y="98.00" font-size="5.5" text-anchor="end" fill="#1a1a1a"><tspan font-style="italic">P</tspan><0.0001</text>
<path d="M224.40,88.70 L226.11,88.54 L227.82,88.35 L229.53,88.14 L231.24,87.89 L232.95,87.60 L234.66,87.27 L236.37,86.89 L238.08,86.46 L239.79,85.96 L241.50,85.40 L243.21,84.76 L244.92,84.05 L246.63,83.24 L248.34,82.34 L250.05,81.35 L251.76,80.26 L253.47,79.06 L255.18,77.77 L256.89,76.38 L258.60,74.91 L260.31,73.37 L262.02,71.76 L263.73,70.12 L265.44,68.44 L267.15,66.76 L268.86,65.10 L270.57,63.47 L272.28,61.89 L273.99,60.38 L275.71,58.95 L277.42,57.61 L279.13,56.37 L280.84,55.22 L282.55,54.17 L284.26,53.23 L285.97,52.38 L287.68,51.61 L289.39,50.93 L291.10,50.33 L292.81,49.81 L294.52,49.34 L296.23,48.93 L297.94,48.58 L299.65,48.27 L301.36,48.00 L303.07,47.77 L304.78,47.57 L306.49,47.40 L308.20,47.25 L309.91,47.12 L311.62,47.01 L313.33,46.91 L315.04,46.83 L316.75,46.76 L318.46,46.70 L320.17,46.64 L321.88,46.60 L323.59,46.56 L325.30,46.53 M212.20,89.35 L215.60,89.24 L218.70,89.09" stroke="#b01036" stroke-width="1.05" fill="none"/>
<path d="M232.30,86.50 V88.50 M230.70,86.50 h3.2 M230.70,88.50 h3.2 M250.90,79.60 V82.60 M249.30,79.60 h3.2 M249.30,82.60 h3.2 M269.50,60.30 V68.10 M267.90,60.30 h3.2 M267.90,68.10 h3.2 M288.10,47.20 V56.40 M286.50,47.20 h3.2 M286.50,56.40 h3.2 M306.70,42.70 V51.70 M305.10,42.70 h3.2 M305.10,51.70 h3.2 M325.30,41.90 V51.10 M323.70,41.90 h3.2 M323.70,51.10 h3.2 " stroke="#b01036" stroke-width="0.8" stroke-opacity="0.85" fill="none"/>
<circle cx="212.20" cy="89.80" r="1.85" fill="#b01036"/>
<circle cx="232.30" cy="87.50" r="1.85" fill="#b01036"/>
<circle cx="250.90" cy="81.10" r="1.85" fill="#b01036"/>
<circle cx="269.50" cy="64.20" r="1.85" fill="#b01036"/>
<circle cx="288.10" cy="51.80" r="1.85" fill="#b01036"/>
<circle cx="306.70" cy="47.20" r="1.85" fill="#b01036"/>
<circle cx="325.30" cy="46.50" r="1.85" fill="#b01036"/>
<path d="M224.40,88.45 L226.11,88.34 L227.82,88.23 L229.53,88.10 L231.24,87.96 L232.95,87.80 L234.66,87.63 L236.37,87.45 L238.08,87.25 L239.79,87.03 L241.50,86.79 L243.21,86.54 L244.92,86.26 L246.63,85.96 L248.34,85.63 L250.05,85.28 L251.76,84.91 L253.47,84.52 L255.18,84.09 L256.89,83.65 L258.60,83.17 L260.31,82.68 L262.02,82.16 L263.73,81.62 L265.44,81.06 L267.15,80.48 L268.86,79.89 L270.57,79.28 L272.28,78.67 L273.99,78.05 L275.71,77.42 L277.42,76.80 L279.13,76.17 L280.84,75.56 L282.55,74.95 L284.26,74.36 L285.97,73.79 L287.68,73.23 L289.39,72.69 L291.10,72.17 L292.81,71.68 L294.52,71.21 L296.23,70.76 L297.94,70.34 L299.65,69.95 L301.36,69.58 L303.07,69.23 L304.78,68.91 L306.49,68.61 L308.20,68.33 L309.91,68.08 L311.62,67.84 L313.33,67.63 L315.04,67.43 L316.75,67.24 L318.46,67.08 L320.17,66.92 L321.88,66.78 L323.59,66.65 L325.30,66.54 M212.20,88.97 L215.60,88.86 L218.70,88.74" stroke="#213d7a" stroke-width="1.05" fill="none"/>
<path d="M232.30,83.80 V91.20 M230.70,83.80 h3.2 M230.70,91.20 h3.2 M250.90,84.00 V87.00 M249.30,84.00 h3.2 M249.30,87.00 h3.2 M269.50,76.70 V82.10 M267.90,76.70 h3.2 M267.90,82.10 h3.2 M288.10,70.50 V75.90 M286.50,70.50 h3.2 M286.50,75.90 h3.2 M306.70,66.00 V71.20 M305.10,66.00 h3.2 M305.10,71.20 h3.2 M325.30,63.60 V69.40 M323.70,63.60 h3.2 M323.70,69.40 h3.2 " stroke="#213d7a" stroke-width="0.8" stroke-opacity="0.85" fill="none"/>
<circle cx="212.20" cy="89.10" r="1.85" fill="#213d7a"/>
<circle cx="232.30" cy="87.50" r="1.85" fill="#213d7a"/>
<circle cx="250.90" cy="85.50" r="1.85" fill="#213d7a"/>
<circle cx="269.50" cy="79.40" r="1.85" fill="#213d7a"/>
<circle cx="288.10" cy="73.20" r="1.85" fill="#213d7a"/>
<circle cx="306.70" cy="68.60" r="1.85" fill="#213d7a"/>
<circle cx="325.30" cy="66.50" r="1.85" fill="#213d7a"/>
<g stroke="#1a1a1a" stroke-width="1.3" fill="none">
<path d="M206.10,180.25 V253.75 M205.55,253.75 H218.70 M218.70,250.85 V256.85 M224.40,250.85 V256.85 M224.40,253.75 H339.00"/>
<path d="M212.40,253.75 v3.4 M229.50,253.75 v3.4 M256.10,253.75 v3.4 M282.70,253.75 v3.4 M309.30,253.75 v3.4 M335.90,253.75 v3.4 M249.10,253.75 v1.6 M275.70,253.75 v1.6 M302.30,253.75 v1.6 M328.90,253.75 v1.6 M202.90,243.45 H206.10 M202.90,217.10 H206.10 M202.90,190.75 H206.10"/>
</g>
<path d="M208.00,243.45 H339.60" stroke="#666" stroke-width="0.9" stroke-dasharray="1 1" fill="none"/>
<text x="200.00" y="245.85" font-size="6.8" text-anchor="end" fill="#1a1a1a" stroke="#1a1a1a" stroke-width="0.2">0</text>
<text x="200.00" y="219.50" font-size="6.8" text-anchor="end" fill="#1a1a1a" stroke="#1a1a1a" stroke-width="0.2">25</text>
<text x="200.00" y="193.15" font-size="6.8" text-anchor="end" fill="#1a1a1a" stroke="#1a1a1a" stroke-width="0.2">50</text>
<text x="229.50" y="265.95" font-size="6.7" text-anchor="middle" textLength="15.01" lengthAdjust="spacingAndGlyphs" fill="#1a1a1a" stroke="#1a1a1a" stroke-width="0.2">0.001</text>
<text x="256.10" y="265.95" font-size="6.7" text-anchor="middle" textLength="11.68" lengthAdjust="spacingAndGlyphs" fill="#1a1a1a" stroke="#1a1a1a" stroke-width="0.2">0.01</text>
<text x="282.70" y="265.95" font-size="6.7" text-anchor="middle" textLength="8.34" lengthAdjust="spacingAndGlyphs" fill="#1a1a1a" stroke="#1a1a1a" stroke-width="0.2">0.1</text>
<text x="309.30" y="265.95" font-size="6.7" text-anchor="middle" textLength="3.34" lengthAdjust="spacingAndGlyphs" fill="#1a1a1a" stroke="#1a1a1a" stroke-width="0.2">1</text>
<text x="335.90" y="265.95" font-size="6.7" text-anchor="middle" textLength="6.67" lengthAdjust="spacingAndGlyphs" fill="#1a1a1a" stroke="#1a1a1a" stroke-width="0.2">10</text>
<text transform="translate(214.60,260.35) rotate(-90)" x="0" y="0" font-size="6.3" text-anchor="end" fill="#1a1a1a" stroke="#1a1a1a" stroke-width="0.14" textLength="41.6" lengthAdjust="spacingAndGlyphs">Solvent control</text>
<text x="272.45" y="278.15" font-size="8.8" text-anchor="middle" textLength="58.7" lengthAdjust="spacingAndGlyphs" fill="#1a1a1a" stroke="#1a1a1a" stroke-width="0.32">Talquetamab (μg/mL)</text>
<text transform="translate(187.20,217.15) rotate(-90)" font-size="8.4" text-anchor="middle" fill="#1a1a1a" stroke="#1a1a1a" stroke-width="0.38" textLength="48.8" lengthAdjust="spacingAndGlyphs">CD25<tspan font-size="5" dy="-3.2">+</tspan><tspan dy="3.2"> T-cells (%)</tspan></text>
<text x="272.60" y="175.85" font-size="6.7" text-anchor="middle" textLength="19.6" lengthAdjust="spacingAndGlyphs" fill="#1a1a1a" stroke="#1a1a1a" stroke-width="0.15">BCMA</text>
<text x="336.80" y="239.25" font-size="5.5" text-anchor="end" fill="#1a1a1a"><tspan font-style="italic">P</tspan>=0.9655</text>
<path d="M224.40,229.78 L226.11,229.67 L227.82,229.54 L229.53,229.40 L231.24,229.23 L232.95,229.05 L234.66,228.83 L236.37,228.59 L238.08,228.32 L239.79,228.01 L241.50,227.66 L243.21,227.27 L244.92,226.83 L246.63,226.33 L248.34,225.79 L250.05,225.19 L251.76,224.52 L253.47,223.80 L255.18,223.01 L256.89,222.16 L258.60,221.25 L260.31,220.29 L262.02,219.27 L263.73,218.22 L265.44,217.12 L267.15,216.01 L268.86,214.88 L270.57,213.75 L272.28,212.63 L273.99,211.52 L275.71,210.45 L277.42,209.42 L279.13,208.44 L280.84,207.51 L282.55,206.64 L284.26,205.83 L285.97,205.08 L287.68,204.39 L289.39,203.77 L291.10,203.20 L292.81,202.69 L294.52,202.23 L296.23,201.82 L297.94,201.46 L299.65,201.13 L301.36,200.84 L303.07,200.59 L304.78,200.37 L306.49,200.17 L308.20,200.00 L309.91,199.85 L311.62,199.72 L313.33,199.60 L315.04,199.50 L316.75,199.42 L318.46,199.34 L320.17,199.27 L321.88,199.21 L323.59,199.16 L325.30,199.12 M212.20,230.24 L215.60,230.15 L218.70,230.05" stroke="#b01036" stroke-width="1.05" fill="none"/>
<path d="M232.30,227.50 V229.50 M230.70,227.50 h3.2 M230.70,229.50 h3.2 M250.90,223.50 V227.50 M249.30,223.50 h3.2 M249.30,227.50 h3.2 M269.50,211.00 V217.00 M267.90,211.00 h3.2 M267.90,217.00 h3.2 M288.10,201.00 V208.00 M286.50,201.00 h3.2 M286.50,208.00 h3.2 M306.70,195.40 V205.40 M305.10,195.40 h3.2 M305.10,205.40 h3.2 M325.30,194.40 V203.20 M323.70,194.40 h3.2 M323.70,203.20 h3.2 " stroke="#b01036" stroke-width="0.8" stroke-opacity="0.85" fill="none"/>
<circle cx="212.20" cy="230.40" r="1.85" fill="#b01036"/>
<circle cx="232.30" cy="228.50" r="1.85" fill="#b01036"/>
<circle cx="250.90" cy="225.50" r="1.85" fill="#b01036"/>
<circle cx="269.50" cy="214.00" r="1.85" fill="#b01036"/>
<circle cx="288.10" cy="204.50" r="1.85" fill="#b01036"/>
<circle cx="306.70" cy="200.40" r="1.85" fill="#b01036"/>
<circle cx="325.30" cy="198.80" r="1.85" fill="#b01036"/>
<path d="M224.40,229.79 L226.11,229.65 L227.82,229.50 L229.53,229.32 L231.24,229.12 L232.95,228.89 L234.66,228.64 L236.37,228.35 L238.08,228.03 L239.79,227.68 L241.50,227.28 L243.21,226.84 L244.92,226.36 L246.63,225.83 L248.34,225.24 L250.05,224.60 L251.76,223.91 L253.47,223.16 L255.18,222.35 L256.89,221.49 L258.60,220.58 L260.31,219.62 L262.02,218.61 L263.73,217.57 L265.44,216.49 L267.15,215.40 L268.86,214.28 L270.57,213.17 L272.28,212.06 L273.99,210.96 L275.71,209.89 L277.42,208.84 L279.13,207.84 L280.84,206.88 L282.55,205.97 L284.26,205.11 L285.97,204.30 L287.68,203.56 L289.39,202.87 L291.10,202.23 L292.81,201.65 L294.52,201.12 L296.23,200.63 L297.94,200.20 L299.65,199.80 L301.36,199.45 L303.07,199.13 L304.78,198.85 L306.49,198.60 L308.20,198.37 L309.91,198.17 L311.62,197.99 L313.33,197.83 L315.04,197.70 L316.75,197.57 L318.46,197.46 L320.17,197.37 L321.88,197.28 L323.59,197.21 L325.30,197.14 M212.20,230.42 L215.60,230.30 L218.70,230.15" stroke="#213d7a" stroke-width="1.05" fill="none"/>
<path d="M232.30,227.00 V230.00 M230.70,227.00 h3.2 M230.70,230.00 h3.2 M250.90,222.50 V227.50 M249.30,222.50 h3.2 M249.30,227.50 h3.2 M269.50,209.50 V216.90 M267.90,209.50 h3.2 M267.90,216.90 h3.2 M288.10,199.60 V208.20 M286.50,199.60 h3.2 M286.50,208.20 h3.2 M306.70,194.00 V203.00 M305.10,194.00 h3.2 M305.10,203.00 h3.2 M325.30,192.40 V201.60 M323.70,192.40 h3.2 M323.70,201.60 h3.2 " stroke="#213d7a" stroke-width="0.8" stroke-opacity="0.85" fill="none"/>
<circle cx="212.20" cy="230.40" r="1.85" fill="#213d7a"/>
<circle cx="232.30" cy="228.50" r="1.85" fill="#213d7a"/>
<circle cx="250.90" cy="225.00" r="1.85" fill="#213d7a"/>
<circle cx="269.50" cy="213.20" r="1.85" fill="#213d7a"/>
<circle cx="288.10" cy="203.90" r="1.85" fill="#213d7a"/>
<circle cx="306.70" cy="198.50" r="1.85" fill="#213d7a"/>
<circle cx="325.30" cy="197.00" r="1.85" fill="#213d7a"/>
<g stroke="#1a1a1a" stroke-width="1.3" fill="none">
<path d="M206.10,321.65 V395.15 M205.55,395.15 H218.70 M218.70,392.25 V398.25 M224.40,392.25 V398.25 M224.40,395.15 H339.00"/>
<path d="M212.40,395.15 v3.4 M229.50,395.15 v3.4 M256.10,395.15 v3.4 M282.70,395.15 v3.4 M309.30,395.15 v3.4 M335.90,395.15 v3.4 M249.10,395.15 v1.6 M275.70,395.15 v1.6 M302.30,395.15 v1.6 M328.90,395.15 v1.6 M202.90,384.85 H206.10 M202.90,358.50 H206.10 M202.90,332.15 H206.10"/>
</g>
<path d="M208.00,384.85 H339.60" stroke="#666" stroke-width="0.9" stroke-dasharray="1 1" fill="none"/>
<text x="200.00" y="387.25" font-size="6.8" text-anchor="end" fill="#1a1a1a" stroke="#1a1a1a" stroke-width="0.2">0</text>
<text x="200.00" y="360.90" font-size="6.8" text-anchor="end" fill="#1a1a1a" stroke="#1a1a1a" stroke-width="0.2">25</text>
<text x="200.00" y="334.55" font-size="6.8" text-anchor="end" fill="#1a1a1a" stroke="#1a1a1a" stroke-width="0.2">50</text>
<text x="229.50" y="407.35" font-size="6.7" text-anchor="middle" textLength="15.01" lengthAdjust="spacingAndGlyphs" fill="#1a1a1a" stroke="#1a1a1a" stroke-width="0.2">0.001</text>
<text x="256.10" y="407.35" font-size="6.7" text-anchor="middle" textLength="11.68" lengthAdjust="spacingAndGlyphs" fill="#1a1a1a" stroke="#1a1a1a" stroke-width="0.2">0.01</text>
<text x="282.70" y="407.35" font-size="6.7" text-anchor="middle" textLength="8.34" lengthAdjust="spacingAndGlyphs" fill="#1a1a1a" stroke="#1a1a1a" stroke-width="0.2">0.1</text>
<text x="309.30" y="407.35" font-size="6.7" text-anchor="middle" textLength="3.34" lengthAdjust="spacingAndGlyphs" fill="#1a1a1a" stroke="#1a1a1a" stroke-width="0.2">1</text>
<text x="335.90" y="407.35" font-size="6.7" text-anchor="middle" textLength="6.67" lengthAdjust="spacingAndGlyphs" fill="#1a1a1a" stroke="#1a1a1a" stroke-width="0.2">10</text>
<text transform="translate(214.60,401.75) rotate(-90)" x="0" y="0" font-size="6.3" text-anchor="end" fill="#1a1a1a" stroke="#1a1a1a" stroke-width="0.14" textLength="41.6" lengthAdjust="spacingAndGlyphs">Solvent control</text>
<text x="272.45" y="419.55" font-size="8.8" text-anchor="middle" textLength="58.7" lengthAdjust="spacingAndGlyphs" fill="#1a1a1a" stroke="#1a1a1a" stroke-width="0.32">Talquetamab (μg/mL)</text>
<text transform="translate(187.20,358.55) rotate(-90)" font-size="8.4" text-anchor="middle" fill="#1a1a1a" stroke="#1a1a1a" stroke-width="0.38" textLength="48.8" lengthAdjust="spacingAndGlyphs">CD25<tspan font-size="5" dy="-3.2">+</tspan><tspan dy="3.2"> T-cells (%)</tspan></text>
<text x="272.60" y="317.25" font-size="6.7" text-anchor="middle" textLength="45.5" lengthAdjust="spacingAndGlyphs" fill="#1a1a1a" stroke="#1a1a1a" stroke-width="0.15">Cytogenetic risk</text>
<text x="336.80" y="380.65" font-size="5.5" text-anchor="end" fill="#1a1a1a"><tspan font-style="italic">P</tspan>=0.0862</text>
<path d="M224.40,372.98 L226.11,372.82 L227.82,372.65 L229.53,372.45 L231.24,372.23 L232.95,371.99 L234.66,371.72 L236.37,371.43 L238.08,371.10 L239.79,370.74 L241.50,370.34 L243.21,369.91 L244.92,369.44 L246.63,368.93 L248.34,368.38 L250.05,367.78 L251.76,367.15 L253.47,366.47 L255.18,365.75 L256.89,364.99 L258.60,364.19 L260.31,363.36 L262.02,362.51 L263.73,361.63 L265.44,360.73 L267.15,359.82 L268.86,358.91 L270.57,358.00 L272.28,357.10 L273.99,356.21 L275.71,355.34 L277.42,354.50 L279.13,353.69 L280.84,352.91 L282.55,352.17 L284.26,351.47 L285.97,350.81 L287.68,350.20 L289.39,349.62 L291.10,349.09 L292.81,348.60 L294.52,348.15 L296.23,347.74 L297.94,347.36 L299.65,347.02 L301.36,346.70 L303.07,346.42 L304.78,346.17 L306.49,345.94 L308.20,345.73 L309.91,345.54 L311.62,345.38 L313.33,345.23 L315.04,345.09 L316.75,344.98 L318.46,344.87 L320.17,344.77 L321.88,344.69 L323.59,344.61 L325.30,344.55 M212.20,373.71 L215.60,373.57 L218.70,373.40" stroke="#b01036" stroke-width="1.05" fill="none"/>
<path d="M232.30,371.30 V373.30 M230.70,371.30 h3.2 M230.70,373.30 h3.2 M250.90,366.00 V369.00 M249.30,366.00 h3.2 M249.30,369.00 h3.2 M269.50,354.80 V361.80 M267.90,354.80 h3.2 M267.90,361.80 h3.2 M288.10,345.40 V355.80 M286.50,345.40 h3.2 M286.50,355.80 h3.2 M306.70,340.20 V350.20 M305.10,340.20 h3.2 M305.10,350.20 h3.2 M325.30,339.00 V350.80 M323.70,339.00 h3.2 M323.70,350.80 h3.2 " stroke="#b01036" stroke-width="0.8" stroke-opacity="0.85" fill="none"/>
<circle cx="212.20" cy="373.70" r="1.85" fill="#b01036"/>
<circle cx="232.30" cy="372.30" r="1.85" fill="#b01036"/>
<circle cx="250.90" cy="367.50" r="1.85" fill="#b01036"/>
<circle cx="269.50" cy="358.30" r="1.85" fill="#b01036"/>
<circle cx="288.10" cy="350.60" r="1.85" fill="#b01036"/>
<circle cx="306.70" cy="345.20" r="1.85" fill="#b01036"/>
<circle cx="325.30" cy="344.90" r="1.85" fill="#b01036"/>
<path d="M224.40,370.88 L226.11,370.71 L227.82,370.52 L229.53,370.30 L231.24,370.05 L232.95,369.77 L234.66,369.46 L236.37,369.11 L238.08,368.72 L239.79,368.28 L241.50,367.79 L243.21,367.25 L244.92,366.66 L246.63,366.01 L248.34,365.30 L250.05,364.53 L251.76,363.69 L253.47,362.79 L255.18,361.84 L256.89,360.83 L258.60,359.76 L260.31,358.66 L262.02,357.51 L263.73,356.34 L265.44,355.15 L267.15,353.95 L268.86,352.75 L270.57,351.57 L272.28,350.41 L273.99,349.29 L275.71,348.20 L277.42,347.17 L279.13,346.18 L280.84,345.26 L282.55,344.40 L284.26,343.60 L285.97,342.86 L287.68,342.18 L289.39,341.56 L291.10,341.00 L292.81,340.49 L294.52,340.03 L296.23,339.61 L297.94,339.25 L299.65,338.92 L301.36,338.62 L303.07,338.36 L304.78,338.13 L306.49,337.92 L308.20,337.74 L309.91,337.58 L311.62,337.44 L313.33,337.32 L315.04,337.21 L316.75,337.11 L318.46,337.03 L320.17,336.95 L321.88,336.89 L323.59,336.83 L325.30,336.78 M212.20,371.63 L215.60,371.49 L218.70,371.32" stroke="#213d7a" stroke-width="1.05" fill="none"/>
<path d="M232.30,368.00 V371.00 M230.70,368.00 h3.2 M230.70,371.00 h3.2 M250.90,363.40 V366.40 M249.30,363.40 h3.2 M249.30,366.40 h3.2 M269.50,348.20 V354.80 M267.90,348.20 h3.2 M267.90,354.80 h3.2 M288.10,338.40 V346.80 M286.50,338.40 h3.2 M286.50,346.80 h3.2 M306.70,334.30 V342.30 M305.10,334.30 h3.2 M305.10,342.30 h3.2 M325.30,332.30 V340.10 M323.70,332.30 h3.2 M323.70,340.10 h3.2 " stroke="#213d7a" stroke-width="0.8" stroke-opacity="0.85" fill="none"/>
<circle cx="212.20" cy="371.50" r="1.85" fill="#213d7a"/>
<circle cx="232.30" cy="369.50" r="1.85" fill="#213d7a"/>
<circle cx="250.90" cy="364.90" r="1.85" fill="#213d7a"/>
<circle cx="269.50" cy="351.50" r="1.85" fill="#213d7a"/>
<circle cx="288.10" cy="342.60" r="1.85" fill="#213d7a"/>
<circle cx="306.70" cy="338.30" r="1.85" fill="#213d7a"/>
<circle cx="325.30" cy="336.20" r="1.85" fill="#213d7a"/>
<g stroke="#1a1a1a" stroke-width="1.3" fill="none">
<path d="M206.10,462.95 V536.45 M205.55,536.45 H218.70 M218.70,533.55 V539.55 M224.40,533.55 V539.55 M224.40,536.45 H339.00"/>
<path d="M212.40,536.45 v3.4 M229.50,536.45 v3.4 M256.10,536.45 v3.4 M282.70,536.45 v3.4 M309.30,536.45 v3.4 M335.90,536.45 v3.4 M249.10,536.45 v1.6 M275.70,536.45 v1.6 M302.30,536.45 v1.6 M328.90,536.45 v1.6 M202.90,526.15 H206.10 M202.90,499.80 H206.10 M202.90,473.45 H206.10"/>
</g>
<path d="M208.00,526.15 H339.60" stroke="#666" stroke-width="0.9" stroke-dasharray="1 1" fill="none"/>
<text x="200.00" y="528.55" font-size="6.8" text-anchor="end" fill="#1a1a1a" stroke="#1a1a1a" stroke-width="0.2">0</text>
<text x="200.00" y="502.20" font-size="6.8" text-anchor="end" fill="#1a1a1a" stroke="#1a1a1a" stroke-width="0.2">25</text>
<text x="200.00" y="475.85" font-size="6.8" text-anchor="end" fill="#1a1a1a" stroke="#1a1a1a" stroke-width="0.2">50</text>
<text x="229.50" y="548.65" font-size="6.7" text-anchor="middle" textLength="15.01" lengthAdjust="spacingAndGlyphs" fill="#1a1a1a" stroke="#1a1a1a" stroke-width="0.2">0.001</text>
<text x="256.10" y="548.65" font-size="6.7" text-anchor="middle" textLength="11.68" lengthAdjust="spacingAndGlyphs" fill="#1a1a1a" stroke="#1a1a1a" stroke-width="0.2">0.01</text>
<text x="282.70" y="548.65" font-size="6.7" text-anchor="middle" textLength="8.34" lengthAdjust="spacingAndGlyphs" fill="#1a1a1a" stroke="#1a1a1a" stroke-width="0.2">0.1</text>
<text x="309.30" y="548.65" font-size="6.7" text-anchor="middle" textLength="3.34" lengthAdjust="spacingAndGlyphs" fill="#1a1a1a" stroke="#1a1a1a" stroke-width="0.2">1</text>
<text x="335.90" y="548.65" font-size="6.7" text-anchor="middle" textLength="6.67" lengthAdjust="spacingAndGlyphs" fill="#1a1a1a" stroke="#1a1a1a" stroke-width="0.2">10</text>
<text transform="translate(214.60,543.05) rotate(-90)" x="0" y="0" font-size="6.3" text-anchor="end" fill="#1a1a1a" stroke="#1a1a1a" stroke-width="0.14" textLength="41.6" lengthAdjust="spacingAndGlyphs">Solvent control</text>
<text x="272.45" y="560.85" font-size="8.8" text-anchor="middle" textLength="58.7" lengthAdjust="spacingAndGlyphs" fill="#1a1a1a" stroke="#1a1a1a" stroke-width="0.32">Talquetamab (μg/mL)</text>
<text transform="translate(187.20,499.85) rotate(-90)" font-size="8.4" text-anchor="middle" fill="#1a1a1a" stroke="#1a1a1a" stroke-width="0.38" textLength="48.8" lengthAdjust="spacingAndGlyphs">CD25<tspan font-size="5" dy="-3.2">+</tspan><tspan dy="3.2"> T-cells (%)</tspan></text>
<text x="272.60" y="458.55" font-size="6.7" text-anchor="middle" textLength="11.5" lengthAdjust="spacingAndGlyphs" fill="#1a1a1a" stroke="#1a1a1a" stroke-width="0.15">Age</text>
<text x="336.80" y="521.95" font-size="5.5" text-anchor="end" fill="#1a1a1a"><tspan font-style="italic">P</tspan>=0.0002</text>
<path d="M224.40,510.17 L226.11,510.00 L227.82,509.81 L229.53,509.61 L231.24,509.39 L232.95,509.15 L234.66,508.89 L236.37,508.62 L238.08,508.32 L239.79,508.00 L241.50,507.66 L243.21,507.30 L244.92,506.91 L246.63,506.50 L248.34,506.07 L250.05,505.61 L251.76,505.13 L253.47,504.62 L255.18,504.10 L256.89,503.55 L258.60,502.98 L260.31,502.39 L262.02,501.79 L263.73,501.17 L265.44,500.54 L267.15,499.91 L268.86,499.26 L270.57,498.62 L272.28,497.97 L273.99,497.33 L275.71,496.69 L277.42,496.06 L279.13,495.44 L280.84,494.84 L282.55,494.25 L284.26,493.68 L285.97,493.13 L287.68,492.60 L289.39,492.10 L291.10,491.61 L292.81,491.15 L294.52,490.72 L296.23,490.30 L297.94,489.91 L299.65,489.55 L301.36,489.21 L303.07,488.89 L304.78,488.59 L306.49,488.31 L308.20,488.05 L309.91,487.82 L311.62,487.59 L313.33,487.39 L315.04,487.20 L316.75,487.03 L318.46,486.87 L320.17,486.72 L321.88,486.58 L323.59,486.46 L325.30,486.35 M212.20,511.05 L215.60,510.86 L218.70,510.65" stroke="#b01036" stroke-width="1.05" fill="none"/>
<path d="M232.30,508.00 V510.00 M230.70,508.00 h3.2 M230.70,510.00 h3.2 M250.90,504.00 V507.00 M249.30,504.00 h3.2 M249.30,507.00 h3.2 M269.50,496.00 V502.00 M267.90,496.00 h3.2 M267.90,502.00 h3.2 M288.10,489.80 V495.20 M286.50,489.80 h3.2 M286.50,495.20 h3.2 M306.70,485.50 V490.90 M305.10,485.50 h3.2 M305.10,490.90 h3.2 M325.30,483.30 V489.50 M323.70,483.30 h3.2 M323.70,489.50 h3.2 " stroke="#b01036" stroke-width="0.8" stroke-opacity="0.85" fill="none"/>
<circle cx="212.20" cy="511.00" r="1.85" fill="#b01036"/>
<circle cx="232.30" cy="509.00" r="1.85" fill="#b01036"/>
<circle cx="250.90" cy="505.50" r="1.85" fill="#b01036"/>
<circle cx="269.50" cy="499.00" r="1.85" fill="#b01036"/>
<circle cx="288.10" cy="492.50" r="1.85" fill="#b01036"/>
<circle cx="306.70" cy="488.20" r="1.85" fill="#b01036"/>
<circle cx="325.30" cy="486.40" r="1.85" fill="#b01036"/>
<path d="M224.40,514.74 L226.11,514.61 L227.82,514.46 L229.53,514.29 L231.24,514.09 L232.95,513.86 L234.66,513.59 L236.37,513.29 L238.08,512.94 L239.79,512.54 L241.50,512.09 L243.21,511.57 L244.92,511.00 L246.63,510.34 L248.34,509.61 L250.05,508.80 L251.76,507.91 L253.47,506.92 L255.18,505.85 L256.89,504.69 L258.60,503.44 L260.31,502.12 L262.02,500.73 L263.73,499.29 L265.44,497.81 L267.15,496.30 L268.86,494.79 L270.57,493.28 L272.28,491.81 L273.99,490.37 L275.71,489.00 L277.42,487.69 L279.13,486.45 L280.84,485.31 L282.55,484.24 L284.26,483.27 L285.97,482.39 L287.68,481.59 L289.39,480.87 L291.10,480.23 L292.81,479.66 L294.52,479.16 L296.23,478.71 L297.94,478.32 L299.65,477.98 L301.36,477.68 L303.07,477.42 L304.78,477.19 L306.49,477.00 L308.20,476.83 L309.91,476.68 L311.62,476.55 L313.33,476.44 L315.04,476.35 L316.75,476.26 L318.46,476.19 L320.17,476.13 L321.88,476.08 L323.59,476.03 L325.30,476.00 M212.20,515.28 L215.60,515.18 L218.70,515.06" stroke="#213d7a" stroke-width="1.05" fill="none"/>
<path d="M232.30,512.60 V514.60 M230.70,512.60 h3.2 M230.70,514.60 h3.2 M250.90,505.50 V512.50 M249.30,505.50 h3.2 M249.30,512.50 h3.2 M269.50,489.90 V497.30 M267.90,489.90 h3.2 M267.90,497.30 h3.2 M288.10,477.10 V487.10 M286.50,477.10 h3.2 M286.50,487.10 h3.2 M306.70,471.90 V481.50 M305.10,471.90 h3.2 M305.10,481.50 h3.2 M325.30,471.20 V480.60 M323.70,471.20 h3.2 M323.70,480.60 h3.2 " stroke="#213d7a" stroke-width="0.8" stroke-opacity="0.85" fill="none"/>
<circle cx="212.20" cy="515.20" r="1.85" fill="#213d7a"/>
<circle cx="232.30" cy="513.60" r="1.85" fill="#213d7a"/>
<circle cx="250.90" cy="509.00" r="1.85" fill="#213d7a"/>
<circle cx="269.50" cy="493.60" r="1.85" fill="#213d7a"/>
<circle cx="288.10" cy="482.10" r="1.85" fill="#213d7a"/>
<circle cx="306.70" cy="476.70" r="1.85" fill="#213d7a"/>
<circle cx="325.30" cy="475.90" r="1.85" fill="#213d7a"/>
<g stroke="#1a1a1a" stroke-width="1.3" fill="none">
<path d="M379.20,39.00 V112.50 M378.65,112.50 H391.80 M391.80,109.60 V115.60 M397.50,109.60 V115.60 M397.50,112.50 H512.10"/>
<path d="M385.50,112.50 v3.4 M402.60,112.50 v3.4 M429.20,112.50 v3.4 M455.80,112.50 v3.4 M482.40,112.50 v3.4 M509.00,112.50 v3.4 M422.20,112.50 v1.6 M448.80,112.50 v1.6 M475.40,112.50 v1.6 M502.00,112.50 v1.6 M376.00,102.50 H379.20 M376.00,77.00 H379.20 M376.00,51.50 H379.20"/>
</g>
<path d="M381.00,102.50 H512.70" stroke="#666" stroke-width="0.9" stroke-dasharray="1 1" fill="none"/>
<text x="373.10" y="104.90" font-size="6.8" text-anchor="end" fill="#1a1a1a" stroke="#1a1a1a" stroke-width="0.2">0</text>
<text x="373.10" y="79.40" font-size="6.8" text-anchor="end" fill="#1a1a1a" stroke="#1a1a1a" stroke-width="0.2">10</text>
<text x="373.10" y="53.90" font-size="6.8" text-anchor="end" fill="#1a1a1a" stroke="#1a1a1a" stroke-width="0.2">20</text>
<text x="402.60" y="124.70" font-size="6.7" text-anchor="middle" textLength="15.01" lengthAdjust="spacingAndGlyphs" fill="#1a1a1a" stroke="#1a1a1a" stroke-width="0.2">0.001</text>
<text x="429.20" y="124.70" font-size="6.7" text-anchor="middle" textLength="11.68" lengthAdjust="spacingAndGlyphs" fill="#1a1a1a" stroke="#1a1a1a" stroke-width="0.2">0.01</text>
<text x="455.80" y="124.70" font-size="6.7" text-anchor="middle" textLength="8.34" lengthAdjust="spacingAndGlyphs" fill="#1a1a1a" stroke="#1a1a1a" stroke-width="0.2">0.1</text>
<text x="482.40" y="124.70" font-size="6.7" text-anchor="middle" textLength="3.34" lengthAdjust="spacingAndGlyphs" fill="#1a1a1a" stroke="#1a1a1a" stroke-width="0.2">1</text>
<text x="509.00" y="124.70" font-size="6.7" text-anchor="middle" textLength="6.67" lengthAdjust="spacingAndGlyphs" fill="#1a1a1a" stroke="#1a1a1a" stroke-width="0.2">10</text>
<text transform="translate(387.70,119.10) rotate(-90)" x="0" y="0" font-size="6.3" text-anchor="end" fill="#1a1a1a" stroke="#1a1a1a" stroke-width="0.14" textLength="41.6" lengthAdjust="spacingAndGlyphs">Solvent control</text>
<text x="445.55" y="136.90" font-size="8.8" text-anchor="middle" textLength="58.7" lengthAdjust="spacingAndGlyphs" fill="#1a1a1a" stroke="#1a1a1a" stroke-width="0.32">Talquetamab (μg/mL)</text>
<text transform="translate(360.30,75.90) rotate(-90)" font-size="8.4" text-anchor="middle" fill="#1a1a1a" stroke="#1a1a1a" stroke-width="0.38" textLength="54.2" lengthAdjust="spacingAndGlyphs">CD107a<tspan font-size="5" dy="-3.2">+</tspan><tspan dy="3.2"> T-cells (%)</tspan></text>
<text x="445.70" y="34.60" font-size="6.7" text-anchor="middle" textLength="27.8" lengthAdjust="spacingAndGlyphs" fill="#1a1a1a" stroke="#1a1a1a" stroke-width="0.15">GPRC5D</text>
<text x="445.60" y="17.50" font-size="8.3" text-anchor="middle" textLength="81.5" lengthAdjust="spacingAndGlyphs" fill="#1a1a1a" stroke="#1a1a1a" stroke-width="0.2">III. T-cell degranulation</text>
<text x="509.90" y="98.00" font-size="5.5" text-anchor="end" fill="#1a1a1a"><tspan font-style="italic">P</tspan><0.0001</text>
<path d="M397.50,77.26 L399.21,77.17 L400.92,77.07 L402.63,76.96 L404.34,76.83 L406.05,76.69 L407.76,76.53 L409.47,76.35 L411.18,76.14 L412.89,75.91 L414.60,75.65 L416.31,75.37 L418.02,75.05 L419.73,74.69 L421.44,74.29 L423.15,73.86 L424.86,73.38 L426.57,72.85 L428.28,72.28 L429.99,71.65 L431.70,70.98 L433.41,70.26 L435.12,69.49 L436.83,68.67 L438.54,67.81 L440.25,66.91 L441.96,65.98 L443.67,65.02 L445.38,64.05 L447.09,63.06 L448.81,62.07 L450.52,61.09 L452.23,60.12 L453.94,59.17 L455.65,58.25 L457.36,57.37 L459.07,56.52 L460.78,55.72 L462.49,54.97 L464.20,54.26 L465.91,53.61 L467.62,53.01 L469.33,52.45 L471.04,51.94 L472.75,51.48 L474.46,51.05 L476.17,50.67 L477.88,50.33 L479.59,50.02 L481.30,49.75 L483.01,49.50 L484.72,49.28 L486.43,49.08 L488.14,48.91 L489.85,48.75 L491.56,48.62 L493.27,48.50 L494.98,48.39 L496.69,48.29 L498.40,48.21 M385.30,77.65 L388.70,77.57 L391.80,77.48" stroke="#b01036" stroke-width="1.05" fill="none"/>
<path d="M405.40,74.20 V79.40 M403.80,74.20 h3.2 M403.80,79.40 h3.2 M424.00,71.70 V75.70 M422.40,71.70 h3.2 M422.40,75.70 h3.2 M442.60,62.70 V68.30 M441.00,62.70 h3.2 M441.00,68.30 h3.2 M461.20,50.60 V60.80 M459.60,50.60 h3.2 M459.60,60.80 h3.2 M479.80,44.00 V55.60 M478.20,44.00 h3.2 M478.20,55.60 h3.2 M498.40,42.30 V54.30 M496.80,42.30 h3.2 M496.80,54.30 h3.2 " stroke="#b01036" stroke-width="0.8" stroke-opacity="0.85" fill="none"/>
<circle cx="385.30" cy="78.30" r="1.85" fill="#b01036"/>
<circle cx="405.40" cy="76.80" r="1.85" fill="#b01036"/>
<circle cx="424.00" cy="73.70" r="1.85" fill="#b01036"/>
<circle cx="442.60" cy="65.50" r="1.85" fill="#b01036"/>
<circle cx="461.20" cy="55.70" r="1.85" fill="#b01036"/>
<circle cx="479.80" cy="49.80" r="1.85" fill="#b01036"/>
<circle cx="498.40" cy="48.30" r="1.85" fill="#b01036"/>
<path d="M397.50,75.16 L399.21,74.94 L400.92,74.73 L402.63,74.51 L404.34,74.29 L406.05,74.06 L407.76,73.84 L409.47,73.62 L411.18,73.40 L412.89,73.18 L414.60,72.96 L416.31,72.74 L418.02,72.53 L419.73,72.33 L421.44,72.13 L423.15,71.93 L424.86,71.74 L426.57,71.55 L428.28,71.38 L429.99,71.21 L431.70,71.04 L433.41,70.88 L435.12,70.73 L436.83,70.59 L438.54,70.45 L440.25,70.32 L441.96,70.20 L443.67,70.08 L445.38,69.97 L447.09,69.87 L448.81,69.77 L450.52,69.68 L452.23,69.59 L453.94,69.51 L455.65,69.43 L457.36,69.36 L459.07,69.30 L460.78,69.24 L462.49,69.18 L464.20,69.12 L465.91,69.07 L467.62,69.03 L469.33,68.98 L471.04,68.94 L472.75,68.91 L474.46,68.87 L476.17,68.84 L477.88,68.81 L479.59,68.78 L481.30,68.76 L483.01,68.73 L484.72,68.71 L486.43,68.69 L488.14,68.67 L489.85,68.65 L491.56,68.64 L493.27,68.62 L494.98,68.61 L496.69,68.60 L498.40,68.58 M385.30,76.54 L388.70,76.18 L391.80,75.84" stroke="#213d7a" stroke-width="1.05" fill="none"/>
<path d="M405.40,70.40 V76.00 M403.80,70.40 h3.2 M403.80,76.00 h3.2 M424.00,69.60 V76.20 M422.40,69.60 h3.2 M422.40,76.20 h3.2 M442.60,67.40 V73.00 M441.00,67.40 h3.2 M441.00,73.00 h3.2 M461.20,65.40 V71.20 M459.60,65.40 h3.2 M459.60,71.20 h3.2 M479.80,65.80 V70.80 M478.20,65.80 h3.2 M478.20,70.80 h3.2 M498.40,66.80 V72.20 M496.80,66.80 h3.2 M496.80,72.20 h3.2 " stroke="#213d7a" stroke-width="0.8" stroke-opacity="0.85" fill="none"/>
<circle cx="385.30" cy="76.80" r="1.85" fill="#213d7a"/>
<circle cx="405.40" cy="73.20" r="1.85" fill="#213d7a"/>
<circle cx="424.00" cy="72.90" r="1.85" fill="#213d7a"/>
<circle cx="442.60" cy="70.20" r="1.85" fill="#213d7a"/>
<circle cx="461.20" cy="68.30" r="1.85" fill="#213d7a"/>
<circle cx="479.80" cy="68.30" r="1.85" fill="#213d7a"/>
<circle cx="498.40" cy="69.50" r="1.85" fill="#213d7a"/>
<g stroke="#1a1a1a" stroke-width="1.3" fill="none">
<path d="M379.20,180.25 V253.75 M378.65,253.75 H391.80 M391.80,250.85 V256.85 M397.50,250.85 V256.85 M397.50,253.75 H512.10"/>
<path d="M385.50,253.75 v3.4 M402.60,253.75 v3.4 M429.20,253.75 v3.4 M455.80,253.75 v3.4 M482.40,253.75 v3.4 M509.00,253.75 v3.4 M422.20,253.75 v1.6 M448.80,253.75 v1.6 M475.40,253.75 v1.6 M502.00,253.75 v1.6 M376.00,243.75 H379.20 M376.00,218.25 H379.20 M376.00,192.75 H379.20"/>
</g>
<path d="M381.00,243.75 H512.70" stroke="#666" stroke-width="0.9" stroke-dasharray="1 1" fill="none"/>
<text x="373.10" y="246.15" font-size="6.8" text-anchor="end" fill="#1a1a1a" stroke="#1a1a1a" stroke-width="0.2">0</text>
<text x="373.10" y="220.65" font-size="6.8" text-anchor="end" fill="#1a1a1a" stroke="#1a1a1a" stroke-width="0.2">10</text>
<text x="373.10" y="195.15" font-size="6.8" text-anchor="end" fill="#1a1a1a" stroke="#1a1a1a" stroke-width="0.2">20</text>
<text x="402.60" y="265.95" font-size="6.7" text-anchor="middle" textLength="15.01" lengthAdjust="spacingAndGlyphs" fill="#1a1a1a" stroke="#1a1a1a" stroke-width="0.2">0.001</text>
<text x="429.20" y="265.95" font-size="6.7" text-anchor="middle" textLength="11.68" lengthAdjust="spacingAndGlyphs" fill="#1a1a1a" stroke="#1a1a1a" stroke-width="0.2">0.01</text>
<text x="455.80" y="265.95" font-size="6.7" text-anchor="middle" textLength="8.34" lengthAdjust="spacingAndGlyphs" fill="#1a1a1a" stroke="#1a1a1a" stroke-width="0.2">0.1</text>
<text x="482.40" y="265.95" font-size="6.7" text-anchor="middle" textLength="3.34" lengthAdjust="spacingAndGlyphs" fill="#1a1a1a" stroke="#1a1a1a" stroke-width="0.2">1</text>
<text x="509.00" y="265.95" font-size="6.7" text-anchor="middle" textLength="6.67" lengthAdjust="spacingAndGlyphs" fill="#1a1a1a" stroke="#1a1a1a" stroke-width="0.2">10</text>
<text transform="translate(387.70,260.35) rotate(-90)" x="0" y="0" font-size="6.3" text-anchor="end" fill="#1a1a1a" stroke="#1a1a1a" stroke-width="0.14" textLength="41.6" lengthAdjust="spacingAndGlyphs">Solvent control</text>
<text x="445.55" y="278.15" font-size="8.8" text-anchor="middle" textLength="58.7" lengthAdjust="spacingAndGlyphs" fill="#1a1a1a" stroke="#1a1a1a" stroke-width="0.32">Talquetamab (μg/mL)</text>
<text transform="translate(360.30,217.15) rotate(-90)" font-size="8.4" text-anchor="middle" fill="#1a1a1a" stroke="#1a1a1a" stroke-width="0.38" textLength="54.2" lengthAdjust="spacingAndGlyphs">CD107a<tspan font-size="5" dy="-3.2">+</tspan><tspan dy="3.2"> T-cells (%)</tspan></text>
<text x="445.70" y="175.85" font-size="6.7" text-anchor="middle" textLength="19.6" lengthAdjust="spacingAndGlyphs" fill="#1a1a1a" stroke="#1a1a1a" stroke-width="0.15">BCMA</text>
<text x="509.90" y="239.25" font-size="5.5" text-anchor="end" fill="#1a1a1a"><tspan font-style="italic">P</tspan>=0.7511</text>
<path d="M397.50,217.98 L399.21,217.86 L400.92,217.73 L402.63,217.59 L404.34,217.44 L406.05,217.27 L407.76,217.09 L409.47,216.90 L411.18,216.69 L412.89,216.46 L414.60,216.22 L416.31,215.96 L418.02,215.68 L419.73,215.39 L421.44,215.07 L423.15,214.74 L424.86,214.39 L426.57,214.03 L428.28,213.64 L429.99,213.25 L431.70,212.83 L433.41,212.41 L435.12,211.97 L436.83,211.53 L438.54,211.08 L440.25,210.62 L441.96,210.17 L443.67,209.71 L445.38,209.25 L447.09,208.80 L448.81,208.36 L450.52,207.93 L452.23,207.51 L453.94,207.09 L455.65,206.70 L457.36,206.32 L459.07,205.95 L460.78,205.61 L462.49,205.28 L464.20,204.97 L465.91,204.67 L467.62,204.40 L469.33,204.14 L471.04,203.90 L472.75,203.67 L474.46,203.47 L476.17,203.27 L477.88,203.09 L479.59,202.93 L481.30,202.78 L483.01,202.64 L484.72,202.51 L486.43,202.39 L488.14,202.29 L489.85,202.19 L491.56,202.10 L493.27,202.02 L494.98,201.94 L496.69,201.87 L498.40,201.81 M385.30,218.58 L388.70,218.45 L391.80,218.31" stroke="#b01036" stroke-width="1.05" fill="none"/>
<path d="M405.40,215.30 V219.30 M403.80,215.30 h3.2 M403.80,219.30 h3.2 M424.00,212.00 V217.00 M422.40,212.00 h3.2 M422.40,217.00 h3.2 M442.60,207.10 V213.10 M441.00,207.10 h3.2 M441.00,213.10 h3.2 M461.20,202.50 V208.50 M459.60,202.50 h3.2 M459.60,208.50 h3.2 M479.80,199.50 V206.10 M478.20,199.50 h3.2 M478.20,206.10 h3.2 M498.40,197.60 V206.20 M496.80,197.60 h3.2 M496.80,206.20 h3.2 " stroke="#b01036" stroke-width="0.8" stroke-opacity="0.85" fill="none"/>
<circle cx="385.30" cy="218.80" r="1.85" fill="#b01036"/>
<circle cx="405.40" cy="217.30" r="1.85" fill="#b01036"/>
<circle cx="424.00" cy="214.50" r="1.85" fill="#b01036"/>
<circle cx="442.60" cy="210.10" r="1.85" fill="#b01036"/>
<circle cx="461.20" cy="205.50" r="1.85" fill="#b01036"/>
<circle cx="479.80" cy="202.80" r="1.85" fill="#b01036"/>
<circle cx="498.40" cy="201.90" r="1.85" fill="#b01036"/>
<path d="M397.50,216.54 L399.21,216.47 L400.92,216.40 L402.63,216.32 L404.34,216.23 L406.05,216.13 L407.76,216.01 L409.47,215.88 L411.18,215.73 L412.89,215.56 L414.60,215.37 L416.31,215.16 L418.02,214.92 L419.73,214.66 L421.44,214.36 L423.15,214.03 L424.86,213.68 L426.57,213.28 L428.28,212.86 L429.99,212.40 L431.70,211.90 L433.41,211.37 L435.12,210.81 L436.83,210.23 L438.54,209.62 L440.25,208.99 L441.96,208.34 L443.67,207.69 L445.38,207.04 L447.09,206.39 L448.81,205.75 L450.52,205.13 L452.23,204.52 L453.94,203.95 L455.65,203.40 L457.36,202.88 L459.07,202.40 L460.78,201.95 L462.49,201.54 L464.20,201.16 L465.91,200.81 L467.62,200.50 L469.33,200.22 L471.04,199.96 L472.75,199.73 L474.46,199.53 L476.17,199.35 L477.88,199.18 L479.59,199.04 L481.30,198.91 L483.01,198.80 L484.72,198.70 L486.43,198.62 L488.14,198.54 L489.85,198.47 L491.56,198.42 L493.27,198.36 L494.98,198.32 L496.69,198.28 L498.40,198.25 M385.30,216.80 L388.70,216.75 L391.80,216.69" stroke="#213d7a" stroke-width="1.05" fill="none"/>
<path d="M405.40,212.00 V217.40 M403.80,212.00 h3.2 M403.80,217.40 h3.2 M424.00,210.40 V217.40 M422.40,210.40 h3.2 M422.40,217.40 h3.2 M442.60,204.50 V212.50 M441.00,204.50 h3.2 M441.00,212.50 h3.2 M461.20,197.10 V206.10 M459.60,197.10 h3.2 M459.60,206.10 h3.2 M479.80,193.10 V203.90 M478.20,193.10 h3.2 M478.20,203.90 h3.2 M498.40,193.50 V204.10 M496.80,193.50 h3.2 M496.80,204.10 h3.2 " stroke="#213d7a" stroke-width="0.8" stroke-opacity="0.85" fill="none"/>
<circle cx="385.30" cy="218.20" r="1.85" fill="#213d7a"/>
<circle cx="405.40" cy="214.70" r="1.85" fill="#213d7a"/>
<circle cx="424.00" cy="213.90" r="1.85" fill="#213d7a"/>
<circle cx="442.60" cy="208.50" r="1.85" fill="#213d7a"/>
<circle cx="461.20" cy="201.60" r="1.85" fill="#213d7a"/>
<circle cx="479.80" cy="198.50" r="1.85" fill="#213d7a"/>
<circle cx="498.40" cy="198.80" r="1.85" fill="#213d7a"/>
<g stroke="#1a1a1a" stroke-width="1.3" fill="none">
<path d="M379.20,321.65 V395.15 M378.65,395.15 H391.80 M391.80,392.25 V398.25 M397.50,392.25 V398.25 M397.50,395.15 H512.10"/>
<path d="M385.50,395.15 v3.4 M402.60,395.15 v3.4 M429.20,395.15 v3.4 M455.80,395.15 v3.4 M482.40,395.15 v3.4 M509.00,395.15 v3.4 M422.20,395.15 v1.6 M448.80,395.15 v1.6 M475.40,395.15 v1.6 M502.00,395.15 v1.6 M376.00,385.15 H379.20 M376.00,359.65 H379.20 M376.00,334.15 H379.20"/>
</g>
<path d="M381.00,385.15 H512.70" stroke="#666" stroke-width="0.9" stroke-dasharray="1 1" fill="none"/>
<text x="373.10" y="387.55" font-size="6.8" text-anchor="end" fill="#1a1a1a" stroke="#1a1a1a" stroke-width="0.2">0</text>
<text x="373.10" y="362.05" font-size="6.8" text-anchor="end" fill="#1a1a1a" stroke="#1a1a1a" stroke-width="0.2">10</text>
<text x="373.10" y="336.55" font-size="6.8" text-anchor="end" fill="#1a1a1a" stroke="#1a1a1a" stroke-width="0.2">20</text>
<text x="402.60" y="407.35" font-size="6.7" text-anchor="middle" textLength="15.01" lengthAdjust="spacingAndGlyphs" fill="#1a1a1a" stroke="#1a1a1a" stroke-width="0.2">0.001</text>
<text x="429.20" y="407.35" font-size="6.7" text-anchor="middle" textLength="11.68" lengthAdjust="spacingAndGlyphs" fill="#1a1a1a" stroke="#1a1a1a" stroke-width="0.2">0.01</text>
<text x="455.80" y="407.35" font-size="6.7" text-anchor="middle" textLength="8.34" lengthAdjust="spacingAndGlyphs" fill="#1a1a1a" stroke="#1a1a1a" stroke-width="0.2">0.1</text>
<text x="482.40" y="407.35" font-size="6.7" text-anchor="middle" textLength="3.34" lengthAdjust="spacingAndGlyphs" fill="#1a1a1a" stroke="#1a1a1a" stroke-width="0.2">1</text>
<text x="509.00" y="407.35" font-size="6.7" text-anchor="middle" textLength="6.67" lengthAdjust="spacingAndGlyphs" fill="#1a1a1a" stroke="#1a1a1a" stroke-width="0.2">10</text>
<text transform="translate(387.70,401.75) rotate(-90)" x="0" y="0" font-size="6.3" text-anchor="end" fill="#1a1a1a" stroke="#1a1a1a" stroke-width="0.14" textLength="41.6" lengthAdjust="spacingAndGlyphs">Solvent control</text>
<text x="445.55" y="419.55" font-size="8.8" text-anchor="middle" textLength="58.7" lengthAdjust="spacingAndGlyphs" fill="#1a1a1a" stroke="#1a1a1a" stroke-width="0.32">Talquetamab (μg/mL)</text>
<text transform="translate(360.30,358.55) rotate(-90)" font-size="8.4" text-anchor="middle" fill="#1a1a1a" stroke="#1a1a1a" stroke-width="0.38" textLength="54.2" lengthAdjust="spacingAndGlyphs">CD107a<tspan font-size="5" dy="-3.2">+</tspan><tspan dy="3.2"> T-cells (%)</tspan></text>
<text x="445.70" y="317.25" font-size="6.7" text-anchor="middle" textLength="45.5" lengthAdjust="spacingAndGlyphs" fill="#1a1a1a" stroke="#1a1a1a" stroke-width="0.15">Cytogenetic risk</text>
<text x="509.90" y="380.65" font-size="5.5" text-anchor="end" fill="#1a1a1a"><tspan font-style="italic">P</tspan>=0.8133</text>
<path d="M397.50,356.46 L399.21,356.45 L400.92,356.44 L402.63,356.42 L404.34,356.40 L406.05,356.37 L407.76,356.34 L409.47,356.30 L411.18,356.25 L412.89,356.18 L414.60,356.10 L416.31,356.00 L418.02,355.88 L419.73,355.73 L421.44,355.54 L423.15,355.31 L424.86,355.04 L426.57,354.72 L428.28,354.34 L429.99,353.90 L431.70,353.40 L433.41,352.84 L435.12,352.23 L436.83,351.59 L438.54,350.93 L440.25,350.26 L441.96,349.61 L443.67,348.98 L445.38,348.41 L447.09,347.88 L448.81,347.41 L450.52,347.01 L452.23,346.66 L453.94,346.37 L455.65,346.12 L457.36,345.92 L459.07,345.75 L460.78,345.62 L462.49,345.51 L464.20,345.42 L465.91,345.35 L467.62,345.29 L469.33,345.25 L471.04,345.21 L472.75,345.18 L474.46,345.16 L476.17,345.14 L477.88,345.13 L479.59,345.11 L481.30,345.10 L483.01,345.10 L484.72,345.09 L486.43,345.09 L488.14,345.08 L489.85,345.08 L491.56,345.08 L493.27,345.08 L494.98,345.08 L496.69,345.07 L498.40,345.07 M385.30,356.49 L388.70,356.49 L391.80,356.48" stroke="#b01036" stroke-width="1.05" fill="none"/>
<path d="M385.30,352.60 V360.40 M383.70,352.60 h3.2 M383.70,360.40 h3.2 M405.40,352.20 V360.80 M403.80,352.20 h3.2 M403.80,360.80 h3.2 M424.00,352.00 V358.00 M422.40,352.00 h3.2 M422.40,358.00 h3.2 M442.60,346.50 V352.50 M441.00,346.50 h3.2 M441.00,352.50 h3.2 M461.20,340.50 V350.30 M459.60,340.50 h3.2 M459.60,350.30 h3.2 M479.80,340.10 V347.50 M478.20,340.10 h3.2 M478.20,347.50 h3.2 M498.40,342.40 V350.60 M496.80,342.40 h3.2 M496.80,350.60 h3.2 " stroke="#b01036" stroke-width="0.8" stroke-opacity="0.85" fill="none"/>
<circle cx="385.30" cy="356.50" r="1.85" fill="#b01036"/>
<circle cx="405.40" cy="356.50" r="1.85" fill="#b01036"/>
<circle cx="424.00" cy="355.00" r="1.85" fill="#b01036"/>
<circle cx="442.60" cy="349.50" r="1.85" fill="#b01036"/>
<circle cx="461.20" cy="345.40" r="1.85" fill="#b01036"/>
<circle cx="479.80" cy="343.80" r="1.85" fill="#b01036"/>
<circle cx="498.40" cy="346.50" r="1.85" fill="#b01036"/>
<path d="M397.50,359.20 L399.21,359.07 L400.92,358.93 L402.63,358.78 L404.34,358.60 L406.05,358.42 L407.76,358.21 L409.47,357.99 L411.18,357.74 L412.89,357.48 L414.60,357.19 L416.31,356.88 L418.02,356.54 L419.73,356.18 L421.44,355.79 L423.15,355.38 L424.86,354.95 L426.57,354.49 L428.28,354.01 L429.99,353.51 L431.70,352.98 L433.41,352.44 L435.12,351.89 L436.83,351.32 L438.54,350.74 L440.25,350.16 L441.96,349.57 L443.67,348.99 L445.38,348.41 L447.09,347.84 L448.81,347.28 L450.52,346.74 L452.23,346.22 L453.94,345.71 L455.65,345.23 L457.36,344.76 L459.07,344.33 L460.78,343.91 L462.49,343.52 L464.20,343.16 L465.91,342.82 L467.62,342.51 L469.33,342.22 L471.04,341.95 L472.75,341.70 L474.46,341.47 L476.17,341.27 L477.88,341.08 L479.59,340.90 L481.30,340.74 L483.01,340.60 L484.72,340.47 L486.43,340.35 L488.14,340.25 L489.85,340.15 L491.56,340.06 L493.27,339.98 L494.98,339.91 L496.69,339.85 L498.40,339.79 M385.30,359.82 L388.70,359.69 L391.80,359.55" stroke="#213d7a" stroke-width="1.05" fill="none"/>
<path d="M405.40,353.90 V360.50 M403.80,353.90 h3.2 M403.80,360.50 h3.2 M424.00,351.70 V359.70 M422.40,351.70 h3.2 M422.40,359.70 h3.2 M442.60,345.60 V353.40 M441.00,345.60 h3.2 M441.00,353.40 h3.2 M461.20,338.90 V347.90 M459.60,338.90 h3.2 M459.60,347.90 h3.2 M479.80,336.60 V345.60 M478.20,336.60 h3.2 M478.20,345.60 h3.2 M498.40,334.40 V345.20 M496.80,334.40 h3.2 M496.80,345.20 h3.2 " stroke="#213d7a" stroke-width="0.8" stroke-opacity="0.85" fill="none"/>
<circle cx="385.30" cy="361.50" r="1.85" fill="#213d7a"/>
<circle cx="405.40" cy="357.20" r="1.85" fill="#213d7a"/>
<circle cx="424.00" cy="355.70" r="1.85" fill="#213d7a"/>
<circle cx="442.60" cy="349.50" r="1.85" fill="#213d7a"/>
<circle cx="461.20" cy="343.40" r="1.85" fill="#213d7a"/>
<circle cx="479.80" cy="341.10" r="1.85" fill="#213d7a"/>
<circle cx="498.40" cy="339.80" r="1.85" fill="#213d7a"/>
<g stroke="#1a1a1a" stroke-width="1.3" fill="none">
<path d="M379.20,462.95 V536.45 M378.65,536.45 H391.80 M391.80,533.55 V539.55 M397.50,533.55 V539.55 M397.50,536.45 H512.10"/>
<path d="M385.50,536.45 v3.4 M402.60,536.45 v3.4 M429.20,536.45 v3.4 M455.80,536.45 v3.4 M482.40,536.45 v3.4 M509.00,536.45 v3.4 M422.20,536.45 v1.6 M448.80,536.45 v1.6 M475.40,536.45 v1.6 M502.00,536.45 v1.6 M376.00,526.45 H379.20 M376.00,500.95 H379.20 M376.00,475.45 H379.20"/>
</g>
<path d="M381.00,526.45 H512.70" stroke="#666" stroke-width="0.9" stroke-dasharray="1 1" fill="none"/>
<text x="373.10" y="528.85" font-size="6.8" text-anchor="end" fill="#1a1a1a" stroke="#1a1a1a" stroke-width="0.2">0</text>
<text x="373.10" y="503.35" font-size="6.8" text-anchor="end" fill="#1a1a1a" stroke="#1a1a1a" stroke-width="0.2">10</text>
<text x="373.10" y="477.85" font-size="6.8" text-anchor="end" fill="#1a1a1a" stroke="#1a1a1a" stroke-width="0.2">20</text>
<text x="402.60" y="548.65" font-size="6.7" text-anchor="middle" textLength="15.01" lengthAdjust="spacingAndGlyphs" fill="#1a1a1a" stroke="#1a1a1a" stroke-width="0.2">0.001</text>
<text x="429.20" y="548.65" font-size="6.7" text-anchor="middle" textLength="11.68" lengthAdjust="spacingAndGlyphs" fill="#1a1a1a" stroke="#1a1a1a" stroke-width="0.2">0.01</text>
<text x="455.80" y="548.65" font-size="6.7" text-anchor="middle" textLength="8.34" lengthAdjust="spacingAndGlyphs" fill="#1a1a1a" stroke="#1a1a1a" stroke-width="0.2">0.1</text>
<text x="482.40" y="548.65" font-size="6.7" text-anchor="middle" textLength="3.34" lengthAdjust="spacingAndGlyphs" fill="#1a1a1a" stroke="#1a1a1a" stroke-width="0.2">1</text>
<text x="509.00" y="548.65" font-size="6.7" text-anchor="middle" textLength="6.67" lengthAdjust="spacingAndGlyphs" fill="#1a1a1a" stroke="#1a1a1a" stroke-width="0.2">10</text>
<text transform="translate(387.70,543.05) rotate(-90)" x="0" y="0" font-size="6.3" text-anchor="end" fill="#1a1a1a" stroke="#1a1a1a" stroke-width="0.14" textLength="41.6" lengthAdjust="spacingAndGlyphs">Solvent control</text>
<text x="445.55" y="560.85" font-size="8.8" text-anchor="middle" textLength="58.7" lengthAdjust="spacingAndGlyphs" fill="#1a1a1a" stroke="#1a1a1a" stroke-width="0.32">Talquetamab (μg/mL)</text>
<text transform="translate(360.30,499.85) rotate(-90)" font-size="8.4" text-anchor="middle" fill="#1a1a1a" stroke="#1a1a1a" stroke-width="0.38" textLength="54.2" lengthAdjust="spacingAndGlyphs">CD107a<tspan font-size="5" dy="-3.2">+</tspan><tspan dy="3.2"> T-cells (%)</tspan></text>
<text x="445.70" y="458.55" font-size="6.7" text-anchor="middle" textLength="11.5" lengthAdjust="spacingAndGlyphs" fill="#1a1a1a" stroke="#1a1a1a" stroke-width="0.15">Age</text>
<text x="509.90" y="521.95" font-size="5.5" text-anchor="end" fill="#1a1a1a"><tspan font-style="italic">P</tspan>=0.0006</text>
<path d="M397.50,497.24 L399.21,497.01 L400.92,496.76 L402.63,496.51 L404.34,496.26 L406.05,496.00 L407.76,495.74 L409.47,495.48 L411.18,495.23 L412.89,494.97 L414.60,494.72 L416.31,494.47 L418.02,494.23 L419.73,493.99 L421.44,493.76 L423.15,493.54 L424.86,493.33 L426.57,493.13 L428.28,492.94 L429.99,492.75 L431.70,492.58 L433.41,492.42 L435.12,492.27 L436.83,492.13 L438.54,492.00 L440.25,491.87 L441.96,491.76 L443.67,491.65 L445.38,491.56 L447.09,491.47 L448.81,491.38 L450.52,491.31 L452.23,491.24 L453.94,491.17 L455.65,491.11 L457.36,491.06 L459.07,491.01 L460.78,490.97 L462.49,490.93 L464.20,490.89 L465.91,490.86 L467.62,490.83 L469.33,490.80 L471.04,490.77 L472.75,490.75 L474.46,490.73 L476.17,490.71 L477.88,490.69 L479.59,490.68 L481.30,490.66 L483.01,490.65 L484.72,490.64 L486.43,490.63 L488.14,490.62 L489.85,490.61 L491.56,490.60 L493.27,490.60 L494.98,490.59 L496.69,490.59 L498.40,490.58 M385.30,498.68 L388.70,498.33 L391.80,497.98" stroke="#b01036" stroke-width="1.05" fill="none"/>
<path d="M385.30,496.80 V501.80 M383.70,496.80 h3.2 M383.70,501.80 h3.2 M405.40,494.60 V496.60 M403.80,494.60 h3.2 M403.80,496.60 h3.2 M424.00,491.10 V497.10 M422.40,491.10 h3.2 M422.40,497.10 h3.2 M442.60,488.60 V494.60 M441.00,488.60 h3.2 M441.00,494.60 h3.2 M461.20,486.90 V493.50 M459.60,486.90 h3.2 M459.60,493.50 h3.2 M479.80,488.50 V492.50 M478.20,488.50 h3.2 M478.20,492.50 h3.2 M498.40,488.80 V493.80 M496.80,488.80 h3.2 M496.80,493.80 h3.2 " stroke="#b01036" stroke-width="0.8" stroke-opacity="0.85" fill="none"/>
<circle cx="385.30" cy="499.30" r="1.85" fill="#b01036"/>
<circle cx="405.40" cy="495.60" r="1.85" fill="#b01036"/>
<circle cx="424.00" cy="494.10" r="1.85" fill="#b01036"/>
<circle cx="442.60" cy="491.60" r="1.85" fill="#b01036"/>
<circle cx="461.20" cy="490.20" r="1.85" fill="#b01036"/>
<circle cx="479.80" cy="490.50" r="1.85" fill="#b01036"/>
<circle cx="498.40" cy="491.30" r="1.85" fill="#b01036"/>
<path d="M397.50,502.24 L399.21,502.18 L400.92,502.11 L402.63,502.04 L404.34,501.95 L406.05,501.84 L407.76,501.73 L409.47,501.59 L411.18,501.44 L412.89,501.27 L414.60,501.08 L416.31,500.85 L418.02,500.60 L419.73,500.32 L421.44,500.00 L423.15,499.65 L424.86,499.25 L426.57,498.81 L428.28,498.32 L429.99,497.79 L431.70,497.20 L433.41,496.56 L435.12,495.87 L436.83,495.13 L438.54,494.34 L440.25,493.50 L441.96,492.63 L443.67,491.73 L445.38,490.80 L447.09,489.85 L448.81,488.90 L450.52,487.95 L452.23,487.01 L453.94,486.09 L455.65,485.20 L457.36,484.35 L459.07,483.53 L460.78,482.77 L462.49,482.05 L464.20,481.38 L465.91,480.77 L467.62,480.20 L469.33,479.69 L471.04,479.22 L472.75,478.80 L474.46,478.43 L476.17,478.09 L477.88,477.79 L479.59,477.52 L481.30,477.29 L483.01,477.08 L484.72,476.89 L486.43,476.73 L488.14,476.59 L489.85,476.46 L491.56,476.35 L493.27,476.26 L494.98,476.17 L496.69,476.10 L498.40,476.04 M385.30,502.49 L388.70,502.45 L391.80,502.39" stroke="#213d7a" stroke-width="1.05" fill="none"/>
<path d="M405.40,500.30 V502.30 M403.80,500.30 h3.2 M403.80,502.30 h3.2 M424.00,496.80 V502.80 M422.40,496.80 h3.2 M422.40,502.80 h3.2 M442.60,488.20 V496.00 M441.00,488.20 h3.2 M441.00,496.00 h3.2 M461.20,477.60 V488.00 M459.60,477.60 h3.2 M459.60,488.00 h3.2 M479.80,471.10 V483.30 M478.20,471.10 h3.2 M478.20,483.30 h3.2 M498.40,470.10 V482.30 M496.80,470.10 h3.2 M496.80,482.30 h3.2 " stroke="#213d7a" stroke-width="0.8" stroke-opacity="0.85" fill="none"/>
<circle cx="385.30" cy="503.30" r="1.85" fill="#213d7a"/>
<circle cx="405.40" cy="501.30" r="1.85" fill="#213d7a"/>
<circle cx="424.00" cy="499.80" r="1.85" fill="#213d7a"/>
<circle cx="442.60" cy="492.10" r="1.85" fill="#213d7a"/>
<circle cx="461.20" cy="482.80" r="1.85" fill="#213d7a"/>
<circle cx="479.80" cy="477.20" r="1.85" fill="#213d7a"/>
<circle cx="498.40" cy="476.20" r="1.85" fill="#213d7a"/>
<text x="7" y="17.1" font-size="11.2" font-weight="bold" fill="#000" stroke="#000" stroke-width="0.35">A</text>
<rect x="0" y="0" width="520" height="1" fill="#000"/>
<rect x="0" y="0" width="1.1" height="592" fill="#000"/>
<rect x="518.6" y="0" width="1.4" height="592" fill="#000"/>
<rect x="0" y="590.8" width="520" height="1.2" fill="#000"/>
</svg></body></html>
